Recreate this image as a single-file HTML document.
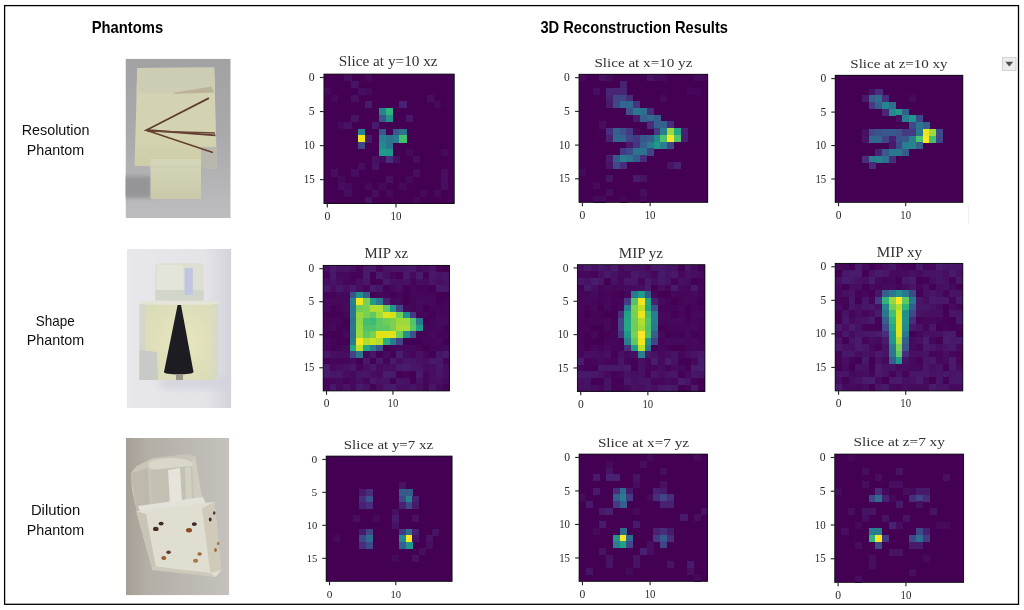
<!DOCTYPE html>
<html><head><meta charset="utf-8">
<style>
html,body{margin:0;padding:0;background:#fff;}
body{width:1024px;height:610px;overflow:hidden;position:relative;}
svg{position:absolute;left:0;top:0;display:block;filter:blur(0.3px);}
.tk{font-family:"Liberation Serif",serif;fill:#2a2a2a;}
.tt{font-family:"Liberation Serif",serif;fill:#333;}
.cal{font-family:"Liberation Sans",sans-serif;fill:#111;}
.calb{font-family:"Liberation Sans",sans-serif;font-weight:bold;fill:#000;}
</style></head><body>
<svg width="1024" height="610" viewBox="0 0 1024 610">
<rect x="0" y="0" width="1024" height="610" fill="#fff"/>
<rect x="4.6" y="5.6" width="1013.9" height="598.7" fill="none" stroke="#000" stroke-width="1.3"/>
<text x="91.7" y="32.5" class="calb" textLength="71.5" lengthAdjust="spacingAndGlyphs" style="font-size:16.5px">Phantoms</text>
<text x="540.4" y="32.5" class="calb" textLength="187.6" lengthAdjust="spacingAndGlyphs" style="font-size:16.5px">3D Reconstruction Results</text>
<text x="21.7" y="135.2" class="cal" textLength="67.8" lengthAdjust="spacingAndGlyphs" style="font-size:14.3px">Resolution</text>
<text x="26.8" y="154.9" class="cal" textLength="57.3" lengthAdjust="spacingAndGlyphs" style="font-size:14.3px">Phantom</text>
<text x="35.8" y="325.5" class="cal" textLength="38.9" lengthAdjust="spacingAndGlyphs" style="font-size:14.3px">Shape</text>
<text x="26.8" y="344.8" class="cal" textLength="57.3" lengthAdjust="spacingAndGlyphs" style="font-size:14.3px">Phantom</text>
<text x="30.9" y="515.2" class="cal" textLength="49.4" lengthAdjust="spacingAndGlyphs" style="font-size:14.3px">Dilution</text>
<text x="26.8" y="534.9" class="cal" textLength="57.3" lengthAdjust="spacingAndGlyphs" style="font-size:14.3px">Phantom</text>
<defs>
<clipPath id="cp1"><rect x="125.5" y="58.7" width="105.2" height="159.3"/></clipPath>
<clipPath id="cp2"><rect x="126.8" y="249" width="104.5" height="159"/></clipPath>
<clipPath id="cp3"><rect x="126" y="438" width="103.3" height="157.3"/></clipPath>
<filter id="bl" x="-10%" y="-10%" width="120%" height="120%"><feGaussianBlur stdDeviation="0.7"/></filter>
<filter id="bl2" x="-50%" y="-50%" width="200%" height="200%"><feGaussianBlur stdDeviation="4"/></filter>
<linearGradient id="g1bg" x1="0" y1="0" x2="0" y2="1"><stop offset="0" stop-color="#a2a2a5"/><stop offset="0.5" stop-color="#aaaaad"/><stop offset="1" stop-color="#bdbdbf"/></linearGradient>
<linearGradient id="g1cube" x1="0" y1="0" x2="0" y2="1"><stop offset="0" stop-color="#d3d3b6"/><stop offset="0.7" stop-color="#d3d3b0"/><stop offset="1" stop-color="#cdcca6"/></linearGradient><linearGradient id="g1blk" x1="0" y1="0" x2="0" y2="1"><stop offset="0" stop-color="#d6d6bb"/><stop offset="1" stop-color="#c9c9a9"/></linearGradient><filter id="bl3" x="-50%" y="-50%" width="200%" height="200%"><feGaussianBlur stdDeviation="2"/></filter>
<linearGradient id="g2bg" x1="0" y1="0" x2="1" y2="0"><stop offset="0" stop-color="#e8e8eb"/><stop offset="0.75" stop-color="#e3e3e8"/><stop offset="1" stop-color="#d3d3dc"/></linearGradient>
<radialGradient id="g2cube" cx="0.55" cy="0.5" r="0.6"><stop offset="0" stop-color="#e7e6bf"/><stop offset="1" stop-color="#dadbb8"/></radialGradient>
<linearGradient id="g3bg" x1="0" y1="0" x2="1" y2="0"><stop offset="0" stop-color="#a49e94"/><stop offset="0.2" stop-color="#b3aea6"/><stop offset="1" stop-color="#c5c1bc"/></linearGradient>
</defs>
<g clip-path="url(#cp1)">
<rect x="125.5" y="58.7" width="105.2" height="159.3" fill="url(#g1bg)"/>
<rect x="122" y="176" width="30" height="22" fill="#959597" filter="url(#bl3)"/>
<g filter="url(#bl)">
<polygon points="137.3,68.1 214.2,67.6 216.9,168.4 134.6,165.8" fill="url(#g1cube)"/>
<polygon points="137.3,68.1 214.2,67.6 215,92.8 136.5,92.8" fill="#cdcdb3"/>
<polygon points="201,147 216.5,147 216.9,168.4 201,168" fill="#b9b8ae"/>
<polygon points="150.5,159 201,159 201,199 150.5,199" fill="url(#g1blk)"/>
<line x1="150.5" y1="167" x2="201" y2="167" stroke="#cacab4" stroke-width="0.8"/>
<polyline points="208.9,98.1 146.6,130 215.5,135.3" fill="none" stroke="#5e3e30" stroke-width="1.8"/>
<line x1="147" y1="131" x2="215" y2="133" stroke="#6a4636" stroke-width="1.6"/>
<line x1="147" y1="130.5" x2="212.9" y2="152.5" stroke="#63412f" stroke-width="1.6"/>
<polygon points="172,93 211.6,86.5 214,92.5 176,94" fill="#9a806e" opacity="0.35"/>
</g>
</g>
<g clip-path="url(#cp2)">
<rect x="126.8" y="249" width="104.5" height="159" fill="url(#g2bg)"/>
<rect x="160" y="378" width="70" height="10" fill="#d2d2dc" filter="url(#bl2)"/>
<g filter="url(#bl)">
<rect x="155.3" y="263.2" width="48.3" height="37.5" rx="3.5" fill="#dcdfd2"/>
<rect x="157" y="265" width="26" height="28" fill="#e3e5d8"/>
<rect x="155.3" y="290" width="48.3" height="10.5" fill="#d2d5c9"/>
<rect x="184.6" y="268" width="8.2" height="27" fill="#c0c6e0"/>
<rect x="139.4" y="301.7" width="78.8" height="78.3" fill="url(#g2cube)"/>
<rect x="139.4" y="301.7" width="78.8" height="3" fill="#e4e5d8"/>
<rect x="139.4" y="304" width="6" height="76" fill="#d4d7c8"/>
<rect x="212.5" y="304" width="5.7" height="76" fill="#d8dac8"/>
<polygon points="139.4,350 157,352 158,380 139.4,380" fill="#c8cbc5"/>
<polygon points="177.6,305 181,305 193.5,372 164,372" fill="#1d1d22"/>
<ellipse cx="178.7" cy="372" rx="14.7" ry="2.6" fill="#1d1d22"/>
<rect x="176" y="374" width="7" height="6" fill="#9a9588"/>
</g>
</g>
<g clip-path="url(#cp3)">
<rect x="126" y="438" width="103.3" height="157.3" fill="url(#g3bg)"/>
<g filter="url(#bl)">
<polygon points="130.9,473 136.4,466.2 152.8,458 188.4,453.9 195.2,456.6 202,497.7 203,506 137,512 132,490" fill="#c9c6b9"/>
<ellipse cx="171" cy="465" rx="23" ry="7" fill="#d9d6ca"/>
<polygon points="150,470 192,466 193,503 152,506" fill="#c4c1b4"/>
<polygon points="130.9,473 148,468 150,507 137,512" fill="#bdb9ac"/>
<polygon points="168,470 180,468 182,502 170,504" fill="#e6e4da"/>
<polygon points="185,468 191,466 192,503 186,503" fill="#d2cfc3"/>
<polygon points="192,460 195.2,456.6 202,497.7 203,506 195,503" fill="#d0cdc0"/>
<polygon points="138,506 203,497 206,504 141,515" fill="#e4e2d8"/>
<polygon points="136.4,511.3 214.4,501.8 221.2,570.2 215.8,577 151.5,566" fill="#e0ddd1"/>
<polygon points="136.4,511.3 146,514 155.6,566 151.5,566" fill="#c9c5b6"/>
<polygon points="202,508.6 214.4,501.8 221.2,570.2 210.3,573" fill="#cfcab9"/>
<polygon points="151.5,566 210.3,573 215.8,577 152,570" fill="#cdc9bb"/>
<ellipse cx="155.8" cy="528.9" rx="2.8" ry="2.2" fill="#4a2c1f"/>
<ellipse cx="161.1" cy="523.6" rx="2.5" ry="1.9" fill="#3a2a28"/>
<ellipse cx="189" cy="530.2" rx="3" ry="2.2" fill="#8a4c26"/>
<ellipse cx="194.3" cy="524.1" rx="2.5" ry="1.9" fill="#3e2c28"/>
<ellipse cx="163.8" cy="558" rx="2.5" ry="2" fill="#9a5c2e"/>
<ellipse cx="168.6" cy="552.2" rx="2.3" ry="1.8" fill="#5a3a2e"/>
<ellipse cx="195.6" cy="560.7" rx="2.6" ry="2" fill="#a67a40"/>
<ellipse cx="199.6" cy="554" rx="2.2" ry="1.8" fill="#9a6a3a"/>
<ellipse cx="210.2" cy="519.6" rx="1.4" ry="2" fill="#3a2e30"/>
<ellipse cx="214.2" cy="513" rx="1.3" ry="1.8" fill="#4a3a36"/>
<ellipse cx="215.5" cy="550" rx="1.4" ry="2" fill="#a06a3a"/>
<ellipse cx="218.2" cy="543.5" rx="1.3" ry="1.8" fill="#a87a4a"/>
</g>
</g>

<g shape-rendering="crispEdges">
<rect x="323.90" y="74.10" width="130.40" height="129.40" fill="#440154"/>
<rect x="344.49" y="74.10" width="7.16" height="7.11" fill="#470d60"/>
<rect x="365.08" y="74.10" width="7.16" height="7.11" fill="#460a5d"/>
<rect x="351.35" y="80.91" width="7.16" height="7.11" fill="#471365"/>
<rect x="323.90" y="87.72" width="7.16" height="7.11" fill="#460a5d"/>
<rect x="358.22" y="87.72" width="7.16" height="7.11" fill="#470d60"/>
<rect x="365.08" y="87.72" width="7.16" height="7.11" fill="#460a5d"/>
<rect x="330.76" y="94.53" width="7.16" height="7.11" fill="#460a5d"/>
<rect x="351.35" y="94.53" width="7.16" height="7.11" fill="#471063"/>
<rect x="426.85" y="94.53" width="7.16" height="7.11" fill="#470d60"/>
<rect x="365.08" y="101.34" width="7.16" height="7.11" fill="#481a6c"/>
<rect x="399.39" y="101.34" width="7.16" height="7.11" fill="#482173"/>
<rect x="433.71" y="101.34" width="7.16" height="7.11" fill="#460a5d"/>
<rect x="378.81" y="108.15" width="7.16" height="7.11" fill="#25848e"/>
<rect x="385.67" y="108.15" width="7.16" height="7.11" fill="#2fb47c"/>
<rect x="351.35" y="114.96" width="7.16" height="7.11" fill="#471365"/>
<rect x="378.81" y="114.96" width="7.16" height="7.11" fill="#38588c"/>
<rect x="385.67" y="114.96" width="7.16" height="7.11" fill="#21918c"/>
<rect x="406.26" y="114.96" width="7.16" height="7.11" fill="#481769"/>
<rect x="337.63" y="121.77" width="7.16" height="7.11" fill="#460a5d"/>
<rect x="344.49" y="121.77" width="7.16" height="7.11" fill="#471365"/>
<rect x="371.94" y="121.77" width="7.16" height="7.11" fill="#481a6c"/>
<rect x="358.22" y="128.58" width="7.16" height="7.11" fill="#25848e"/>
<rect x="378.81" y="128.58" width="7.16" height="7.11" fill="#38588c"/>
<rect x="392.53" y="128.58" width="7.16" height="7.11" fill="#38588c"/>
<rect x="399.39" y="128.58" width="7.16" height="7.11" fill="#2c738e"/>
<rect x="358.22" y="135.39" width="7.16" height="7.11" fill="#ece51b"/>
<rect x="365.08" y="135.39" width="7.16" height="7.11" fill="#481a6c"/>
<rect x="378.81" y="135.39" width="7.16" height="7.11" fill="#27808e"/>
<rect x="385.67" y="135.39" width="7.16" height="7.11" fill="#2c738e"/>
<rect x="392.53" y="135.39" width="7.16" height="7.11" fill="#287d8e"/>
<rect x="399.39" y="135.39" width="7.16" height="7.11" fill="#44bf70"/>
<rect x="358.22" y="142.21" width="7.16" height="7.11" fill="#414487"/>
<rect x="378.81" y="142.21" width="7.16" height="7.11" fill="#228b8d"/>
<rect x="385.67" y="142.21" width="7.16" height="7.11" fill="#2c738e"/>
<rect x="378.81" y="149.02" width="7.16" height="7.11" fill="#1e9c89"/>
<rect x="385.67" y="149.02" width="7.16" height="7.11" fill="#1f978b"/>
<rect x="406.26" y="149.02" width="7.16" height="7.11" fill="#460a5d"/>
<rect x="440.57" y="149.02" width="7.16" height="7.11" fill="#460a5d"/>
<rect x="371.94" y="155.83" width="7.16" height="7.11" fill="#471063"/>
<rect x="378.81" y="155.83" width="7.16" height="7.11" fill="#460a5d"/>
<rect x="385.67" y="155.83" width="7.16" height="7.11" fill="#472d7b"/>
<rect x="392.53" y="155.83" width="7.16" height="7.11" fill="#471063"/>
<rect x="413.12" y="155.83" width="7.16" height="7.11" fill="#470d60"/>
<rect x="358.22" y="162.64" width="7.16" height="7.11" fill="#470d60"/>
<rect x="371.94" y="162.64" width="7.16" height="7.11" fill="#471365"/>
<rect x="330.76" y="169.45" width="7.16" height="7.11" fill="#470d60"/>
<rect x="351.35" y="169.45" width="7.16" height="7.11" fill="#470d60"/>
<rect x="413.12" y="169.45" width="7.16" height="7.11" fill="#470d60"/>
<rect x="440.57" y="169.45" width="7.16" height="7.11" fill="#470d60"/>
<rect x="337.63" y="176.26" width="7.16" height="7.11" fill="#460a5d"/>
<rect x="385.67" y="176.26" width="7.16" height="7.11" fill="#471063"/>
<rect x="406.26" y="176.26" width="7.16" height="7.11" fill="#460a5d"/>
<rect x="440.57" y="176.26" width="7.16" height="7.11" fill="#470d60"/>
<rect x="337.63" y="183.07" width="7.16" height="7.11" fill="#470d60"/>
<rect x="344.49" y="183.07" width="7.16" height="7.11" fill="#460a5d"/>
<rect x="365.08" y="183.07" width="7.16" height="7.11" fill="#460a5d"/>
<rect x="378.81" y="183.07" width="7.16" height="7.11" fill="#460a5d"/>
<rect x="399.39" y="183.07" width="7.16" height="7.11" fill="#460a5d"/>
<rect x="440.57" y="183.07" width="7.16" height="7.11" fill="#470d60"/>
<rect x="344.49" y="189.88" width="7.16" height="7.11" fill="#470d60"/>
<rect x="371.94" y="189.88" width="7.16" height="7.11" fill="#470d60"/>
<rect x="385.67" y="189.88" width="7.16" height="7.11" fill="#460a5d"/>
<rect x="419.98" y="189.88" width="7.16" height="7.11" fill="#460a5d"/>
<rect x="433.71" y="189.88" width="7.16" height="7.11" fill="#460a5d"/>
<rect x="365.08" y="196.69" width="7.16" height="7.11" fill="#471365"/>
<rect x="413.12" y="196.69" width="7.16" height="7.11" fill="#460a5d"/>
</g>
<rect x="323.90" y="74.10" width="130.40" height="129.40" fill="none" stroke="#111" stroke-width="0.9"/>
<line x1="319.90" y1="77.51" x2="323.90" y2="77.51" stroke="#222" stroke-width="1.1"/>
<text x="314.70" y="81.21" class="tk" text-anchor="end" style="font-size:11.81px">0</text>
<line x1="319.90" y1="111.56" x2="323.90" y2="111.56" stroke="#222" stroke-width="1.1"/>
<text x="314.70" y="115.26" class="tk" text-anchor="end" style="font-size:11.81px">5</text>
<line x1="319.90" y1="145.61" x2="323.90" y2="145.61" stroke="#222" stroke-width="1.1"/>
<text x="314.70" y="149.31" class="tk" text-anchor="end" textLength="11.01" lengthAdjust="spacingAndGlyphs" style="font-size:11.81px">10</text>
<line x1="319.90" y1="179.66" x2="323.90" y2="179.66" stroke="#222" stroke-width="1.1"/>
<text x="314.70" y="183.36" class="tk" text-anchor="end" textLength="11.01" lengthAdjust="spacingAndGlyphs" style="font-size:11.81px">15</text>
<line x1="327.33" y1="203.50" x2="327.33" y2="207.50" stroke="#222" stroke-width="1.1"/>
<text x="327.33" y="220.31" class="tk" text-anchor="middle" style="font-size:11.81px">0</text>
<line x1="395.96" y1="203.50" x2="395.96" y2="207.50" stroke="#222" stroke-width="1.1"/>
<text x="395.96" y="220.31" class="tk" text-anchor="middle" textLength="11.01" lengthAdjust="spacingAndGlyphs" style="font-size:11.81px">10</text>
<text x="338.80" y="66.40" class="tt" textLength="98.80" lengthAdjust="spacingAndGlyphs" style="font-size:13.61px">Slice at y=10 xz</text>
<g shape-rendering="crispEdges">
<rect x="579.00" y="74.30" width="128.70" height="128.10" fill="#440154"/>
<rect x="579.00" y="74.30" width="7.07" height="7.04" fill="#460a5d"/>
<rect x="599.32" y="74.30" width="7.07" height="7.04" fill="#471063"/>
<rect x="606.09" y="74.30" width="7.07" height="7.04" fill="#460a5d"/>
<rect x="646.74" y="74.30" width="7.07" height="7.04" fill="#471365"/>
<rect x="653.51" y="74.30" width="7.07" height="7.04" fill="#460a5d"/>
<rect x="660.28" y="74.30" width="7.07" height="7.04" fill="#460a5d"/>
<rect x="694.15" y="74.30" width="7.07" height="7.04" fill="#460a5d"/>
<rect x="700.93" y="74.30" width="7.07" height="7.04" fill="#460a5d"/>
<rect x="619.64" y="81.04" width="7.07" height="7.04" fill="#482173"/>
<rect x="592.55" y="87.78" width="7.07" height="7.04" fill="#470d60"/>
<rect x="606.09" y="87.78" width="7.07" height="7.04" fill="#482576"/>
<rect x="612.87" y="87.78" width="7.07" height="7.04" fill="#482576"/>
<rect x="619.64" y="87.78" width="7.07" height="7.04" fill="#482576"/>
<rect x="687.38" y="87.78" width="7.07" height="7.04" fill="#46075a"/>
<rect x="694.15" y="87.78" width="7.07" height="7.04" fill="#46075a"/>
<rect x="606.09" y="94.53" width="7.07" height="7.04" fill="#482173"/>
<rect x="612.87" y="94.53" width="7.07" height="7.04" fill="#414487"/>
<rect x="619.64" y="94.53" width="7.07" height="7.04" fill="#414487"/>
<rect x="626.42" y="94.53" width="7.07" height="7.04" fill="#472d7b"/>
<rect x="660.28" y="94.53" width="7.07" height="7.04" fill="#460a5d"/>
<rect x="606.09" y="101.27" width="7.07" height="7.04" fill="#481a6c"/>
<rect x="612.87" y="101.27" width="7.07" height="7.04" fill="#3e4989"/>
<rect x="619.64" y="101.27" width="7.07" height="7.04" fill="#31678e"/>
<rect x="626.42" y="101.27" width="7.07" height="7.04" fill="#31678e"/>
<rect x="633.19" y="101.27" width="7.07" height="7.04" fill="#453581"/>
<rect x="626.42" y="108.01" width="7.07" height="7.04" fill="#3b528b"/>
<rect x="633.19" y="108.01" width="7.07" height="7.04" fill="#2a788e"/>
<rect x="639.96" y="108.01" width="7.07" height="7.04" fill="#2d718e"/>
<rect x="646.74" y="108.01" width="7.07" height="7.04" fill="#472d7b"/>
<rect x="633.19" y="114.75" width="7.07" height="7.04" fill="#481a6c"/>
<rect x="639.96" y="114.75" width="7.07" height="7.04" fill="#355f8d"/>
<rect x="646.74" y="114.75" width="7.07" height="7.04" fill="#2f6c8e"/>
<rect x="653.51" y="114.75" width="7.07" height="7.04" fill="#355f8d"/>
<rect x="599.32" y="121.49" width="7.07" height="7.04" fill="#470d60"/>
<rect x="646.74" y="121.49" width="7.07" height="7.04" fill="#472d7b"/>
<rect x="653.51" y="121.49" width="7.07" height="7.04" fill="#355f8d"/>
<rect x="660.28" y="121.49" width="7.07" height="7.04" fill="#355f8d"/>
<rect x="667.06" y="121.49" width="7.07" height="7.04" fill="#472d7b"/>
<rect x="606.09" y="128.24" width="7.07" height="7.04" fill="#472d7b"/>
<rect x="612.87" y="128.24" width="7.07" height="7.04" fill="#355f8d"/>
<rect x="619.64" y="128.24" width="7.07" height="7.04" fill="#3b528b"/>
<rect x="626.42" y="128.24" width="7.07" height="7.04" fill="#443a83"/>
<rect x="633.19" y="128.24" width="7.07" height="7.04" fill="#460a5d"/>
<rect x="653.51" y="128.24" width="7.07" height="7.04" fill="#443a83"/>
<rect x="660.28" y="128.24" width="7.07" height="7.04" fill="#27808e"/>
<rect x="667.06" y="128.24" width="7.07" height="7.04" fill="#9bd93c"/>
<rect x="673.83" y="128.24" width="7.07" height="7.04" fill="#22a884"/>
<rect x="680.61" y="128.24" width="7.07" height="7.04" fill="#482173"/>
<rect x="606.09" y="134.98" width="7.07" height="7.04" fill="#482173"/>
<rect x="612.87" y="134.98" width="7.07" height="7.04" fill="#31678e"/>
<rect x="619.64" y="134.98" width="7.07" height="7.04" fill="#31678e"/>
<rect x="626.42" y="134.98" width="7.07" height="7.04" fill="#414487"/>
<rect x="633.19" y="134.98" width="7.07" height="7.04" fill="#443a83"/>
<rect x="639.96" y="134.98" width="7.07" height="7.04" fill="#38588c"/>
<rect x="646.74" y="134.98" width="7.07" height="7.04" fill="#355f8d"/>
<rect x="653.51" y="134.98" width="7.07" height="7.04" fill="#228b8d"/>
<rect x="660.28" y="134.98" width="7.07" height="7.04" fill="#4ec36b"/>
<rect x="667.06" y="134.98" width="7.07" height="7.04" fill="#fde725"/>
<rect x="673.83" y="134.98" width="7.07" height="7.04" fill="#52c569"/>
<rect x="680.61" y="134.98" width="7.07" height="7.04" fill="#482173"/>
<rect x="626.42" y="141.72" width="7.07" height="7.04" fill="#481a6c"/>
<rect x="633.19" y="141.72" width="7.07" height="7.04" fill="#453581"/>
<rect x="639.96" y="141.72" width="7.07" height="7.04" fill="#355f8d"/>
<rect x="646.74" y="141.72" width="7.07" height="7.04" fill="#287d8e"/>
<rect x="653.51" y="141.72" width="7.07" height="7.04" fill="#1f9a8a"/>
<rect x="660.28" y="141.72" width="7.07" height="7.04" fill="#287d8e"/>
<rect x="667.06" y="141.72" width="7.07" height="7.04" fill="#3e4989"/>
<rect x="619.64" y="148.46" width="7.07" height="7.04" fill="#443a83"/>
<rect x="626.42" y="148.46" width="7.07" height="7.04" fill="#3e4989"/>
<rect x="633.19" y="148.46" width="7.07" height="7.04" fill="#2c738e"/>
<rect x="639.96" y="148.46" width="7.07" height="7.04" fill="#2c738e"/>
<rect x="646.74" y="148.46" width="7.07" height="7.04" fill="#414487"/>
<rect x="606.09" y="155.21" width="7.07" height="7.04" fill="#481a6c"/>
<rect x="612.87" y="155.21" width="7.07" height="7.04" fill="#375a8c"/>
<rect x="619.64" y="155.21" width="7.07" height="7.04" fill="#287d8e"/>
<rect x="626.42" y="155.21" width="7.07" height="7.04" fill="#2c738e"/>
<rect x="633.19" y="155.21" width="7.07" height="7.04" fill="#375a8c"/>
<rect x="639.96" y="155.21" width="7.07" height="7.04" fill="#472d7b"/>
<rect x="606.09" y="161.95" width="7.07" height="7.04" fill="#471365"/>
<rect x="612.87" y="161.95" width="7.07" height="7.04" fill="#3e4989"/>
<rect x="619.64" y="161.95" width="7.07" height="7.04" fill="#472d7b"/>
<rect x="667.06" y="161.95" width="7.07" height="7.04" fill="#471365"/>
<rect x="673.83" y="161.95" width="7.07" height="7.04" fill="#482173"/>
<rect x="579.00" y="168.69" width="7.07" height="7.04" fill="#460a5d"/>
<rect x="606.09" y="175.43" width="7.07" height="7.04" fill="#471365"/>
<rect x="633.19" y="175.43" width="7.07" height="7.04" fill="#481a6c"/>
<rect x="639.96" y="175.43" width="7.07" height="7.04" fill="#471365"/>
<rect x="592.55" y="182.17" width="7.07" height="7.04" fill="#460a5d"/>
<rect x="606.09" y="188.92" width="7.07" height="7.04" fill="#470d60"/>
<rect x="639.96" y="188.92" width="7.07" height="7.04" fill="#470d60"/>
<rect x="592.55" y="195.66" width="7.07" height="7.04" fill="#460a5d"/>
<rect x="599.32" y="195.66" width="7.07" height="7.04" fill="#460a5d"/>
<rect x="619.64" y="195.66" width="7.07" height="7.04" fill="#46075a"/>
<rect x="639.96" y="195.66" width="7.07" height="7.04" fill="#46075a"/>
</g>
<rect x="579.00" y="74.30" width="128.70" height="128.10" fill="none" stroke="#111" stroke-width="0.9"/>
<line x1="575.05" y1="77.67" x2="579.00" y2="77.67" stroke="#222" stroke-width="1.1"/>
<text x="569.92" y="81.32" class="tk" text-anchor="end" style="font-size:11.65px">0</text>
<line x1="575.05" y1="111.38" x2="579.00" y2="111.38" stroke="#222" stroke-width="1.1"/>
<text x="569.92" y="115.04" class="tk" text-anchor="end" style="font-size:11.65px">5</text>
<line x1="575.05" y1="145.09" x2="579.00" y2="145.09" stroke="#222" stroke-width="1.1"/>
<text x="569.92" y="148.75" class="tk" text-anchor="end" textLength="10.86" lengthAdjust="spacingAndGlyphs" style="font-size:11.65px">10</text>
<line x1="575.05" y1="178.80" x2="579.00" y2="178.80" stroke="#222" stroke-width="1.1"/>
<text x="569.92" y="182.46" class="tk" text-anchor="end" textLength="10.86" lengthAdjust="spacingAndGlyphs" style="font-size:11.65px">15</text>
<line x1="582.39" y1="202.40" x2="582.39" y2="206.35" stroke="#222" stroke-width="1.1"/>
<text x="582.39" y="218.99" class="tk" text-anchor="middle" style="font-size:11.65px">0</text>
<line x1="650.12" y1="202.40" x2="650.12" y2="206.35" stroke="#222" stroke-width="1.1"/>
<text x="650.12" y="218.99" class="tk" text-anchor="middle" textLength="10.86" lengthAdjust="spacingAndGlyphs" style="font-size:11.65px">10</text>
<text x="594.40" y="67.40" class="tt" textLength="98.00" lengthAdjust="spacingAndGlyphs" style="font-size:13.43px">Slice at x=10 yz</text>
<g shape-rendering="crispEdges">
<rect x="835.20" y="75.30" width="127.60" height="127.10" fill="#440154"/>
<rect x="868.78" y="88.68" width="7.02" height="6.99" fill="#471365"/>
<rect x="875.49" y="88.68" width="7.02" height="6.99" fill="#472d7b"/>
<rect x="862.06" y="95.37" width="7.02" height="6.99" fill="#481a6c"/>
<rect x="868.78" y="95.37" width="7.02" height="6.99" fill="#355f8d"/>
<rect x="875.49" y="95.37" width="7.02" height="6.99" fill="#2f6c8e"/>
<rect x="882.21" y="95.37" width="7.02" height="6.99" fill="#472d7b"/>
<rect x="909.07" y="95.37" width="7.02" height="6.99" fill="#460a5d"/>
<rect x="868.78" y="102.06" width="7.02" height="6.99" fill="#443a83"/>
<rect x="875.49" y="102.06" width="7.02" height="6.99" fill="#355f8d"/>
<rect x="882.21" y="102.06" width="7.02" height="6.99" fill="#25848e"/>
<rect x="888.93" y="102.06" width="7.02" height="6.99" fill="#2f6c8e"/>
<rect x="882.21" y="108.75" width="7.02" height="6.99" fill="#482576"/>
<rect x="888.93" y="108.75" width="7.02" height="6.99" fill="#228b8d"/>
<rect x="895.64" y="108.75" width="7.02" height="6.99" fill="#1e9c89"/>
<rect x="902.36" y="108.75" width="7.02" height="6.99" fill="#355f8d"/>
<rect x="895.64" y="115.44" width="7.02" height="6.99" fill="#471063"/>
<rect x="902.36" y="115.44" width="7.02" height="6.99" fill="#27808e"/>
<rect x="909.07" y="115.44" width="7.02" height="6.99" fill="#1f958b"/>
<rect x="915.79" y="115.44" width="7.02" height="6.99" fill="#3e4989"/>
<rect x="909.07" y="122.13" width="7.02" height="6.99" fill="#3e4989"/>
<rect x="915.79" y="122.13" width="7.02" height="6.99" fill="#2c738e"/>
<rect x="922.51" y="122.13" width="7.02" height="6.99" fill="#355f8d"/>
<rect x="862.06" y="128.82" width="7.02" height="6.99" fill="#471063"/>
<rect x="868.78" y="128.82" width="7.02" height="6.99" fill="#3e4989"/>
<rect x="875.49" y="128.82" width="7.02" height="6.99" fill="#3b528b"/>
<rect x="882.21" y="128.82" width="7.02" height="6.99" fill="#38588c"/>
<rect x="888.93" y="128.82" width="7.02" height="6.99" fill="#375a8c"/>
<rect x="895.64" y="128.82" width="7.02" height="6.99" fill="#3b528b"/>
<rect x="902.36" y="128.82" width="7.02" height="6.99" fill="#443a83"/>
<rect x="909.07" y="128.82" width="7.02" height="6.99" fill="#443a83"/>
<rect x="915.79" y="128.82" width="7.02" height="6.99" fill="#2a788e"/>
<rect x="922.51" y="128.82" width="7.02" height="6.99" fill="#ece51b"/>
<rect x="929.22" y="128.82" width="7.02" height="6.99" fill="#9bd93c"/>
<rect x="935.94" y="128.82" width="7.02" height="6.99" fill="#3e4989"/>
<rect x="862.06" y="135.51" width="7.02" height="6.99" fill="#471365"/>
<rect x="868.78" y="135.51" width="7.02" height="6.99" fill="#31678e"/>
<rect x="875.49" y="135.51" width="7.02" height="6.99" fill="#31678e"/>
<rect x="882.21" y="135.51" width="7.02" height="6.99" fill="#414487"/>
<rect x="888.93" y="135.51" width="7.02" height="6.99" fill="#482173"/>
<rect x="895.64" y="135.51" width="7.02" height="6.99" fill="#3b528b"/>
<rect x="902.36" y="135.51" width="7.02" height="6.99" fill="#375a8c"/>
<rect x="909.07" y="135.51" width="7.02" height="6.99" fill="#27808e"/>
<rect x="915.79" y="135.51" width="7.02" height="6.99" fill="#4ec36b"/>
<rect x="922.51" y="135.51" width="7.02" height="6.99" fill="#fde725"/>
<rect x="929.22" y="135.51" width="7.02" height="6.99" fill="#44bf70"/>
<rect x="935.94" y="135.51" width="7.02" height="6.99" fill="#414487"/>
<rect x="888.93" y="142.19" width="7.02" height="6.99" fill="#481a6c"/>
<rect x="895.64" y="142.19" width="7.02" height="6.99" fill="#3e4989"/>
<rect x="902.36" y="142.19" width="7.02" height="6.99" fill="#27808e"/>
<rect x="909.07" y="142.19" width="7.02" height="6.99" fill="#25848e"/>
<rect x="915.79" y="142.19" width="7.02" height="6.99" fill="#355f8d"/>
<rect x="875.49" y="148.88" width="7.02" height="6.99" fill="#482173"/>
<rect x="882.21" y="148.88" width="7.02" height="6.99" fill="#375a8c"/>
<rect x="888.93" y="148.88" width="7.02" height="6.99" fill="#2a788e"/>
<rect x="895.64" y="148.88" width="7.02" height="6.99" fill="#2a788e"/>
<rect x="902.36" y="148.88" width="7.02" height="6.99" fill="#375a8c"/>
<rect x="862.06" y="155.57" width="7.02" height="6.99" fill="#472d7b"/>
<rect x="868.78" y="155.57" width="7.02" height="6.99" fill="#27808e"/>
<rect x="875.49" y="155.57" width="7.02" height="6.99" fill="#27808e"/>
<rect x="882.21" y="155.57" width="7.02" height="6.99" fill="#2d718e"/>
<rect x="888.93" y="155.57" width="7.02" height="6.99" fill="#472d7b"/>
<rect x="868.78" y="162.26" width="7.02" height="6.99" fill="#472d7b"/>
</g>
<rect x="835.20" y="75.30" width="127.60" height="127.10" fill="none" stroke="#111" stroke-width="0.9"/>
<line x1="831.28" y1="78.64" x2="835.20" y2="78.64" stroke="#222" stroke-width="1.1"/>
<text x="826.19" y="82.27" class="tk" text-anchor="end" style="font-size:11.55px">0</text>
<line x1="831.28" y1="112.09" x2="835.20" y2="112.09" stroke="#222" stroke-width="1.1"/>
<text x="826.19" y="115.71" class="tk" text-anchor="end" style="font-size:11.55px">5</text>
<line x1="831.28" y1="145.54" x2="835.20" y2="145.54" stroke="#222" stroke-width="1.1"/>
<text x="826.19" y="149.16" class="tk" text-anchor="end" textLength="10.77" lengthAdjust="spacingAndGlyphs" style="font-size:11.55px">10</text>
<line x1="831.28" y1="178.99" x2="835.20" y2="178.99" stroke="#222" stroke-width="1.1"/>
<text x="826.19" y="182.61" class="tk" text-anchor="end" textLength="10.77" lengthAdjust="spacingAndGlyphs" style="font-size:11.55px">15</text>
<line x1="838.56" y1="202.40" x2="838.56" y2="206.32" stroke="#222" stroke-width="1.1"/>
<text x="838.56" y="218.85" class="tk" text-anchor="middle" style="font-size:11.55px">0</text>
<line x1="905.72" y1="202.40" x2="905.72" y2="206.32" stroke="#222" stroke-width="1.1"/>
<text x="905.72" y="218.85" class="tk" text-anchor="middle" textLength="10.77" lengthAdjust="spacingAndGlyphs" style="font-size:11.55px">10</text>
<text x="850.30" y="68.20" class="tt" textLength="97.30" lengthAdjust="spacingAndGlyphs" style="font-size:13.31px">Slice at z=10 xy</text>
<g shape-rendering="crispEdges">
<rect x="323.20" y="265.40" width="126.20" height="125.50" fill="#440154"/>
<rect x="323.20" y="265.40" width="6.94" height="6.91" fill="#470d60"/>
<rect x="329.84" y="265.40" width="6.94" height="6.91" fill="#481b6d"/>
<rect x="336.48" y="265.40" width="6.94" height="6.91" fill="#471164"/>
<rect x="343.13" y="265.40" width="6.94" height="6.91" fill="#481467"/>
<rect x="349.77" y="265.40" width="6.94" height="6.91" fill="#470e61"/>
<rect x="356.41" y="265.40" width="6.94" height="6.91" fill="#450559"/>
<rect x="363.05" y="265.40" width="6.94" height="6.91" fill="#481769"/>
<rect x="369.69" y="265.40" width="6.94" height="6.91" fill="#48186a"/>
<rect x="376.34" y="265.40" width="6.94" height="6.91" fill="#46075a"/>
<rect x="382.98" y="265.40" width="6.94" height="6.91" fill="#471365"/>
<rect x="389.62" y="265.40" width="6.94" height="6.91" fill="#481467"/>
<rect x="396.26" y="265.40" width="6.94" height="6.91" fill="#481467"/>
<rect x="402.91" y="265.40" width="6.94" height="6.91" fill="#481769"/>
<rect x="409.55" y="265.40" width="6.94" height="6.91" fill="#48186a"/>
<rect x="416.19" y="265.40" width="6.94" height="6.91" fill="#460b5e"/>
<rect x="422.83" y="265.40" width="6.94" height="6.91" fill="#470e61"/>
<rect x="429.47" y="265.40" width="6.94" height="6.91" fill="#481467"/>
<rect x="436.12" y="265.40" width="6.94" height="6.91" fill="#450457"/>
<rect x="442.76" y="265.40" width="6.94" height="6.91" fill="#440154"/>
<rect x="323.20" y="272.01" width="6.94" height="6.91" fill="#450457"/>
<rect x="329.84" y="272.01" width="6.94" height="6.91" fill="#48186a"/>
<rect x="336.48" y="272.01" width="6.94" height="6.91" fill="#460a5d"/>
<rect x="343.13" y="272.01" width="6.94" height="6.91" fill="#46085c"/>
<rect x="349.77" y="272.01" width="6.94" height="6.91" fill="#450457"/>
<rect x="356.41" y="272.01" width="6.94" height="6.91" fill="#450457"/>
<rect x="363.05" y="272.01" width="6.94" height="6.91" fill="#481b6d"/>
<rect x="369.69" y="272.01" width="6.94" height="6.91" fill="#440154"/>
<rect x="376.34" y="272.01" width="6.94" height="6.91" fill="#481b6d"/>
<rect x="382.98" y="272.01" width="6.94" height="6.91" fill="#471063"/>
<rect x="389.62" y="272.01" width="6.94" height="6.91" fill="#46075a"/>
<rect x="396.26" y="272.01" width="6.94" height="6.91" fill="#440154"/>
<rect x="402.91" y="272.01" width="6.94" height="6.91" fill="#48186a"/>
<rect x="409.55" y="272.01" width="6.94" height="6.91" fill="#460b5e"/>
<rect x="416.19" y="272.01" width="6.94" height="6.91" fill="#481b6d"/>
<rect x="422.83" y="272.01" width="6.94" height="6.91" fill="#440256"/>
<rect x="429.47" y="272.01" width="6.94" height="6.91" fill="#481769"/>
<rect x="436.12" y="272.01" width="6.94" height="6.91" fill="#471365"/>
<rect x="442.76" y="272.01" width="6.94" height="6.91" fill="#481769"/>
<rect x="323.20" y="278.61" width="6.94" height="6.91" fill="#470e61"/>
<rect x="329.84" y="278.61" width="6.94" height="6.91" fill="#481467"/>
<rect x="336.48" y="278.61" width="6.94" height="6.91" fill="#470d60"/>
<rect x="343.13" y="278.61" width="6.94" height="6.91" fill="#46075a"/>
<rect x="349.77" y="278.61" width="6.94" height="6.91" fill="#450457"/>
<rect x="356.41" y="278.61" width="6.94" height="6.91" fill="#470e61"/>
<rect x="363.05" y="278.61" width="6.94" height="6.91" fill="#481668"/>
<rect x="369.69" y="278.61" width="6.94" height="6.91" fill="#440154"/>
<rect x="376.34" y="278.61" width="6.94" height="6.91" fill="#450457"/>
<rect x="382.98" y="278.61" width="6.94" height="6.91" fill="#481a6c"/>
<rect x="389.62" y="278.61" width="6.94" height="6.91" fill="#471063"/>
<rect x="396.26" y="278.61" width="6.94" height="6.91" fill="#471063"/>
<rect x="402.91" y="278.61" width="6.94" height="6.91" fill="#471164"/>
<rect x="409.55" y="278.61" width="6.94" height="6.91" fill="#450457"/>
<rect x="416.19" y="278.61" width="6.94" height="6.91" fill="#470d60"/>
<rect x="422.83" y="278.61" width="6.94" height="6.91" fill="#460b5e"/>
<rect x="429.47" y="278.61" width="6.94" height="6.91" fill="#481467"/>
<rect x="436.12" y="278.61" width="6.94" height="6.91" fill="#470e61"/>
<rect x="442.76" y="278.61" width="6.94" height="6.91" fill="#471365"/>
<rect x="323.20" y="285.22" width="6.94" height="6.91" fill="#481a6c"/>
<rect x="329.84" y="285.22" width="6.94" height="6.91" fill="#470e61"/>
<rect x="336.48" y="285.22" width="6.94" height="6.91" fill="#481769"/>
<rect x="343.13" y="285.22" width="6.94" height="6.91" fill="#471063"/>
<rect x="349.77" y="285.22" width="6.94" height="6.91" fill="#481b6d"/>
<rect x="356.41" y="285.22" width="6.94" height="6.91" fill="#470e61"/>
<rect x="363.05" y="285.22" width="6.94" height="6.91" fill="#46075a"/>
<rect x="369.69" y="285.22" width="6.94" height="6.91" fill="#481b6d"/>
<rect x="376.34" y="285.22" width="6.94" height="6.91" fill="#481668"/>
<rect x="382.98" y="285.22" width="6.94" height="6.91" fill="#450457"/>
<rect x="389.62" y="285.22" width="6.94" height="6.91" fill="#460a5d"/>
<rect x="396.26" y="285.22" width="6.94" height="6.91" fill="#470e61"/>
<rect x="402.91" y="285.22" width="6.94" height="6.91" fill="#440256"/>
<rect x="409.55" y="285.22" width="6.94" height="6.91" fill="#46075a"/>
<rect x="416.19" y="285.22" width="6.94" height="6.91" fill="#450457"/>
<rect x="422.83" y="285.22" width="6.94" height="6.91" fill="#450457"/>
<rect x="429.47" y="285.22" width="6.94" height="6.91" fill="#440256"/>
<rect x="436.12" y="285.22" width="6.94" height="6.91" fill="#48186a"/>
<rect x="442.76" y="285.22" width="6.94" height="6.91" fill="#48186a"/>
<rect x="323.20" y="291.82" width="6.94" height="6.91" fill="#450559"/>
<rect x="329.84" y="291.82" width="6.94" height="6.91" fill="#450457"/>
<rect x="336.48" y="291.82" width="6.94" height="6.91" fill="#46085c"/>
<rect x="343.13" y="291.82" width="6.94" height="6.91" fill="#46085c"/>
<rect x="349.77" y="291.82" width="6.94" height="6.91" fill="#3b528b"/>
<rect x="356.41" y="291.82" width="6.94" height="6.91" fill="#21918c"/>
<rect x="363.05" y="291.82" width="6.94" height="6.91" fill="#355f8d"/>
<rect x="369.69" y="291.82" width="6.94" height="6.91" fill="#440154"/>
<rect x="376.34" y="291.82" width="6.94" height="6.91" fill="#46075a"/>
<rect x="382.98" y="291.82" width="6.94" height="6.91" fill="#450559"/>
<rect x="389.62" y="291.82" width="6.94" height="6.91" fill="#440256"/>
<rect x="396.26" y="291.82" width="6.94" height="6.91" fill="#450559"/>
<rect x="402.91" y="291.82" width="6.94" height="6.91" fill="#440256"/>
<rect x="409.55" y="291.82" width="6.94" height="6.91" fill="#46075a"/>
<rect x="416.19" y="291.82" width="6.94" height="6.91" fill="#46075a"/>
<rect x="422.83" y="291.82" width="6.94" height="6.91" fill="#46075a"/>
<rect x="429.47" y="291.82" width="6.94" height="6.91" fill="#46075a"/>
<rect x="436.12" y="291.82" width="6.94" height="6.91" fill="#440154"/>
<rect x="442.76" y="291.82" width="6.94" height="6.91" fill="#440154"/>
<rect x="323.20" y="298.43" width="6.94" height="6.91" fill="#46085c"/>
<rect x="329.84" y="298.43" width="6.94" height="6.91" fill="#460a5d"/>
<rect x="336.48" y="298.43" width="6.94" height="6.91" fill="#46075a"/>
<rect x="343.13" y="298.43" width="6.94" height="6.91" fill="#460a5d"/>
<rect x="349.77" y="298.43" width="6.94" height="6.91" fill="#27808e"/>
<rect x="356.41" y="298.43" width="6.94" height="6.91" fill="#f1e51d"/>
<rect x="363.05" y="298.43" width="6.94" height="6.91" fill="#7ad151"/>
<rect x="369.69" y="298.43" width="6.94" height="6.91" fill="#1e9c89"/>
<rect x="376.34" y="298.43" width="6.94" height="6.91" fill="#2a788e"/>
<rect x="382.98" y="298.43" width="6.94" height="6.91" fill="#482173"/>
<rect x="389.62" y="298.43" width="6.94" height="6.91" fill="#46085c"/>
<rect x="396.26" y="298.43" width="6.94" height="6.91" fill="#460a5d"/>
<rect x="402.91" y="298.43" width="6.94" height="6.91" fill="#440154"/>
<rect x="409.55" y="298.43" width="6.94" height="6.91" fill="#450559"/>
<rect x="416.19" y="298.43" width="6.94" height="6.91" fill="#460a5d"/>
<rect x="422.83" y="298.43" width="6.94" height="6.91" fill="#46075a"/>
<rect x="429.47" y="298.43" width="6.94" height="6.91" fill="#46085c"/>
<rect x="436.12" y="298.43" width="6.94" height="6.91" fill="#440256"/>
<rect x="442.76" y="298.43" width="6.94" height="6.91" fill="#450457"/>
<rect x="323.20" y="305.03" width="6.94" height="6.91" fill="#46085c"/>
<rect x="329.84" y="305.03" width="6.94" height="6.91" fill="#440256"/>
<rect x="336.48" y="305.03" width="6.94" height="6.91" fill="#450457"/>
<rect x="343.13" y="305.03" width="6.94" height="6.91" fill="#460a5d"/>
<rect x="349.77" y="305.03" width="6.94" height="6.91" fill="#2a788e"/>
<rect x="356.41" y="305.03" width="6.94" height="6.91" fill="#6ece58"/>
<rect x="363.05" y="305.03" width="6.94" height="6.91" fill="#7ad151"/>
<rect x="369.69" y="305.03" width="6.94" height="6.91" fill="#b0dd2f"/>
<rect x="376.34" y="305.03" width="6.94" height="6.91" fill="#b0dd2f"/>
<rect x="382.98" y="305.03" width="6.94" height="6.91" fill="#5ec962"/>
<rect x="389.62" y="305.03" width="6.94" height="6.91" fill="#1f978b"/>
<rect x="396.26" y="305.03" width="6.94" height="6.91" fill="#414487"/>
<rect x="402.91" y="305.03" width="6.94" height="6.91" fill="#46085c"/>
<rect x="409.55" y="305.03" width="6.94" height="6.91" fill="#450559"/>
<rect x="416.19" y="305.03" width="6.94" height="6.91" fill="#46085c"/>
<rect x="422.83" y="305.03" width="6.94" height="6.91" fill="#440154"/>
<rect x="429.47" y="305.03" width="6.94" height="6.91" fill="#450559"/>
<rect x="436.12" y="305.03" width="6.94" height="6.91" fill="#450559"/>
<rect x="442.76" y="305.03" width="6.94" height="6.91" fill="#46075a"/>
<rect x="323.20" y="311.64" width="6.94" height="6.91" fill="#440154"/>
<rect x="329.84" y="311.64" width="6.94" height="6.91" fill="#440256"/>
<rect x="336.48" y="311.64" width="6.94" height="6.91" fill="#440256"/>
<rect x="343.13" y="311.64" width="6.94" height="6.91" fill="#46075a"/>
<rect x="349.77" y="311.64" width="6.94" height="6.91" fill="#2a788e"/>
<rect x="356.41" y="311.64" width="6.94" height="6.91" fill="#95d840"/>
<rect x="363.05" y="311.64" width="6.94" height="6.91" fill="#7ad151"/>
<rect x="369.69" y="311.64" width="6.94" height="6.91" fill="#5ec962"/>
<rect x="376.34" y="311.64" width="6.94" height="6.91" fill="#a2da37"/>
<rect x="382.98" y="311.64" width="6.94" height="6.91" fill="#dfe318"/>
<rect x="389.62" y="311.64" width="6.94" height="6.91" fill="#d2e21b"/>
<rect x="396.26" y="311.64" width="6.94" height="6.91" fill="#6ece58"/>
<rect x="402.91" y="311.64" width="6.94" height="6.91" fill="#21918c"/>
<rect x="409.55" y="311.64" width="6.94" height="6.91" fill="#443a83"/>
<rect x="416.19" y="311.64" width="6.94" height="6.91" fill="#450457"/>
<rect x="422.83" y="311.64" width="6.94" height="6.91" fill="#46075a"/>
<rect x="429.47" y="311.64" width="6.94" height="6.91" fill="#440256"/>
<rect x="436.12" y="311.64" width="6.94" height="6.91" fill="#46085c"/>
<rect x="442.76" y="311.64" width="6.94" height="6.91" fill="#46075a"/>
<rect x="323.20" y="318.24" width="6.94" height="6.91" fill="#450559"/>
<rect x="329.84" y="318.24" width="6.94" height="6.91" fill="#46075a"/>
<rect x="336.48" y="318.24" width="6.94" height="6.91" fill="#450559"/>
<rect x="343.13" y="318.24" width="6.94" height="6.91" fill="#440154"/>
<rect x="349.77" y="318.24" width="6.94" height="6.91" fill="#2c738e"/>
<rect x="356.41" y="318.24" width="6.94" height="6.91" fill="#8ed645"/>
<rect x="363.05" y="318.24" width="6.94" height="6.91" fill="#44bf70"/>
<rect x="369.69" y="318.24" width="6.94" height="6.91" fill="#3bbb75"/>
<rect x="376.34" y="318.24" width="6.94" height="6.91" fill="#5ec962"/>
<rect x="382.98" y="318.24" width="6.94" height="6.91" fill="#6ece58"/>
<rect x="389.62" y="318.24" width="6.94" height="6.91" fill="#7ad151"/>
<rect x="396.26" y="318.24" width="6.94" height="6.91" fill="#9bd93c"/>
<rect x="402.91" y="318.24" width="6.94" height="6.91" fill="#9bd93c"/>
<rect x="409.55" y="318.24" width="6.94" height="6.91" fill="#52c569"/>
<rect x="416.19" y="318.24" width="6.94" height="6.91" fill="#2a788e"/>
<rect x="422.83" y="318.24" width="6.94" height="6.91" fill="#440154"/>
<rect x="429.47" y="318.24" width="6.94" height="6.91" fill="#450559"/>
<rect x="436.12" y="318.24" width="6.94" height="6.91" fill="#460a5d"/>
<rect x="442.76" y="318.24" width="6.94" height="6.91" fill="#460a5d"/>
<rect x="323.20" y="324.85" width="6.94" height="6.91" fill="#46075a"/>
<rect x="329.84" y="324.85" width="6.94" height="6.91" fill="#460a5d"/>
<rect x="336.48" y="324.85" width="6.94" height="6.91" fill="#440256"/>
<rect x="343.13" y="324.85" width="6.94" height="6.91" fill="#440256"/>
<rect x="349.77" y="324.85" width="6.94" height="6.91" fill="#2a788e"/>
<rect x="356.41" y="324.85" width="6.94" height="6.91" fill="#95d840"/>
<rect x="363.05" y="324.85" width="6.94" height="6.91" fill="#4ec36b"/>
<rect x="369.69" y="324.85" width="6.94" height="6.91" fill="#4ec36b"/>
<rect x="376.34" y="324.85" width="6.94" height="6.91" fill="#5ec962"/>
<rect x="382.98" y="324.85" width="6.94" height="6.91" fill="#5ec962"/>
<rect x="389.62" y="324.85" width="6.94" height="6.91" fill="#7ad151"/>
<rect x="396.26" y="324.85" width="6.94" height="6.91" fill="#a8db34"/>
<rect x="402.91" y="324.85" width="6.94" height="6.91" fill="#a8db34"/>
<rect x="409.55" y="324.85" width="6.94" height="6.91" fill="#5ec962"/>
<rect x="416.19" y="324.85" width="6.94" height="6.91" fill="#1e9c89"/>
<rect x="422.83" y="324.85" width="6.94" height="6.91" fill="#450559"/>
<rect x="429.47" y="324.85" width="6.94" height="6.91" fill="#450559"/>
<rect x="436.12" y="324.85" width="6.94" height="6.91" fill="#46085c"/>
<rect x="442.76" y="324.85" width="6.94" height="6.91" fill="#440256"/>
<rect x="323.20" y="331.45" width="6.94" height="6.91" fill="#440256"/>
<rect x="329.84" y="331.45" width="6.94" height="6.91" fill="#440154"/>
<rect x="336.48" y="331.45" width="6.94" height="6.91" fill="#440256"/>
<rect x="343.13" y="331.45" width="6.94" height="6.91" fill="#46085c"/>
<rect x="349.77" y="331.45" width="6.94" height="6.91" fill="#2c738e"/>
<rect x="356.41" y="331.45" width="6.94" height="6.91" fill="#9bd93c"/>
<rect x="363.05" y="331.45" width="6.94" height="6.91" fill="#5ec962"/>
<rect x="369.69" y="331.45" width="6.94" height="6.91" fill="#7ad151"/>
<rect x="376.34" y="331.45" width="6.94" height="6.91" fill="#dfe318"/>
<rect x="382.98" y="331.45" width="6.94" height="6.91" fill="#dfe318"/>
<rect x="389.62" y="331.45" width="6.94" height="6.91" fill="#dfe318"/>
<rect x="396.26" y="331.45" width="6.94" height="6.91" fill="#6ece58"/>
<rect x="402.91" y="331.45" width="6.94" height="6.91" fill="#21918c"/>
<rect x="409.55" y="331.45" width="6.94" height="6.91" fill="#3b528b"/>
<rect x="416.19" y="331.45" width="6.94" height="6.91" fill="#450457"/>
<rect x="422.83" y="331.45" width="6.94" height="6.91" fill="#450559"/>
<rect x="429.47" y="331.45" width="6.94" height="6.91" fill="#460a5d"/>
<rect x="436.12" y="331.45" width="6.94" height="6.91" fill="#450457"/>
<rect x="442.76" y="331.45" width="6.94" height="6.91" fill="#450559"/>
<rect x="323.20" y="338.06" width="6.94" height="6.91" fill="#46085c"/>
<rect x="329.84" y="338.06" width="6.94" height="6.91" fill="#450559"/>
<rect x="336.48" y="338.06" width="6.94" height="6.91" fill="#440154"/>
<rect x="343.13" y="338.06" width="6.94" height="6.91" fill="#440154"/>
<rect x="349.77" y="338.06" width="6.94" height="6.91" fill="#287d8e"/>
<rect x="356.41" y="338.06" width="6.94" height="6.91" fill="#f1e51d"/>
<rect x="363.05" y="338.06" width="6.94" height="6.91" fill="#b0dd2f"/>
<rect x="369.69" y="338.06" width="6.94" height="6.91" fill="#cae11f"/>
<rect x="376.34" y="338.06" width="6.94" height="6.91" fill="#b0dd2f"/>
<rect x="382.98" y="338.06" width="6.94" height="6.91" fill="#26ad81"/>
<rect x="389.62" y="338.06" width="6.94" height="6.91" fill="#287d8e"/>
<rect x="396.26" y="338.06" width="6.94" height="6.91" fill="#414487"/>
<rect x="402.91" y="338.06" width="6.94" height="6.91" fill="#440256"/>
<rect x="409.55" y="338.06" width="6.94" height="6.91" fill="#440256"/>
<rect x="416.19" y="338.06" width="6.94" height="6.91" fill="#440256"/>
<rect x="422.83" y="338.06" width="6.94" height="6.91" fill="#450559"/>
<rect x="429.47" y="338.06" width="6.94" height="6.91" fill="#450559"/>
<rect x="436.12" y="338.06" width="6.94" height="6.91" fill="#46085c"/>
<rect x="442.76" y="338.06" width="6.94" height="6.91" fill="#440154"/>
<rect x="323.20" y="344.66" width="6.94" height="6.91" fill="#46085c"/>
<rect x="329.84" y="344.66" width="6.94" height="6.91" fill="#440256"/>
<rect x="336.48" y="344.66" width="6.94" height="6.91" fill="#450559"/>
<rect x="343.13" y="344.66" width="6.94" height="6.91" fill="#460a5d"/>
<rect x="349.77" y="344.66" width="6.94" height="6.91" fill="#22a884"/>
<rect x="356.41" y="344.66" width="6.94" height="6.91" fill="#bddf26"/>
<rect x="363.05" y="344.66" width="6.94" height="6.91" fill="#22a884"/>
<rect x="369.69" y="344.66" width="6.94" height="6.91" fill="#287d8e"/>
<rect x="376.34" y="344.66" width="6.94" height="6.91" fill="#3b528b"/>
<rect x="382.98" y="344.66" width="6.94" height="6.91" fill="#440154"/>
<rect x="389.62" y="344.66" width="6.94" height="6.91" fill="#46085c"/>
<rect x="396.26" y="344.66" width="6.94" height="6.91" fill="#460a5d"/>
<rect x="402.91" y="344.66" width="6.94" height="6.91" fill="#46085c"/>
<rect x="409.55" y="344.66" width="6.94" height="6.91" fill="#460a5d"/>
<rect x="416.19" y="344.66" width="6.94" height="6.91" fill="#450559"/>
<rect x="422.83" y="344.66" width="6.94" height="6.91" fill="#440154"/>
<rect x="429.47" y="344.66" width="6.94" height="6.91" fill="#450559"/>
<rect x="436.12" y="344.66" width="6.94" height="6.91" fill="#450559"/>
<rect x="442.76" y="344.66" width="6.94" height="6.91" fill="#460a5d"/>
<rect x="323.20" y="351.27" width="6.94" height="6.91" fill="#481769"/>
<rect x="329.84" y="351.27" width="6.94" height="6.91" fill="#471063"/>
<rect x="336.48" y="351.27" width="6.94" height="6.91" fill="#470d60"/>
<rect x="343.13" y="351.27" width="6.94" height="6.91" fill="#470d60"/>
<rect x="349.77" y="351.27" width="6.94" height="6.91" fill="#414487"/>
<rect x="356.41" y="351.27" width="6.94" height="6.91" fill="#2c738e"/>
<rect x="363.05" y="351.27" width="6.94" height="6.91" fill="#460a5d"/>
<rect x="369.69" y="351.27" width="6.94" height="6.91" fill="#481769"/>
<rect x="376.34" y="351.27" width="6.94" height="6.91" fill="#440256"/>
<rect x="382.98" y="351.27" width="6.94" height="6.91" fill="#460b5e"/>
<rect x="389.62" y="351.27" width="6.94" height="6.91" fill="#440256"/>
<rect x="396.26" y="351.27" width="6.94" height="6.91" fill="#481c6e"/>
<rect x="402.91" y="351.27" width="6.94" height="6.91" fill="#460b5e"/>
<rect x="409.55" y="351.27" width="6.94" height="6.91" fill="#450559"/>
<rect x="416.19" y="351.27" width="6.94" height="6.91" fill="#471164"/>
<rect x="422.83" y="351.27" width="6.94" height="6.91" fill="#46075a"/>
<rect x="429.47" y="351.27" width="6.94" height="6.91" fill="#440256"/>
<rect x="436.12" y="351.27" width="6.94" height="6.91" fill="#481668"/>
<rect x="442.76" y="351.27" width="6.94" height="6.91" fill="#481b6d"/>
<rect x="323.20" y="357.87" width="6.94" height="6.91" fill="#440154"/>
<rect x="329.84" y="357.87" width="6.94" height="6.91" fill="#46075a"/>
<rect x="336.48" y="357.87" width="6.94" height="6.91" fill="#450559"/>
<rect x="343.13" y="357.87" width="6.94" height="6.91" fill="#46075a"/>
<rect x="349.77" y="357.87" width="6.94" height="6.91" fill="#460b5e"/>
<rect x="356.41" y="357.87" width="6.94" height="6.91" fill="#440154"/>
<rect x="363.05" y="357.87" width="6.94" height="6.91" fill="#48186a"/>
<rect x="369.69" y="357.87" width="6.94" height="6.91" fill="#440256"/>
<rect x="376.34" y="357.87" width="6.94" height="6.91" fill="#48186a"/>
<rect x="382.98" y="357.87" width="6.94" height="6.91" fill="#450457"/>
<rect x="389.62" y="357.87" width="6.94" height="6.91" fill="#481a6c"/>
<rect x="396.26" y="357.87" width="6.94" height="6.91" fill="#470d60"/>
<rect x="402.91" y="357.87" width="6.94" height="6.91" fill="#481668"/>
<rect x="409.55" y="357.87" width="6.94" height="6.91" fill="#481467"/>
<rect x="416.19" y="357.87" width="6.94" height="6.91" fill="#470e61"/>
<rect x="422.83" y="357.87" width="6.94" height="6.91" fill="#470e61"/>
<rect x="429.47" y="357.87" width="6.94" height="6.91" fill="#48186a"/>
<rect x="436.12" y="357.87" width="6.94" height="6.91" fill="#481769"/>
<rect x="442.76" y="357.87" width="6.94" height="6.91" fill="#450457"/>
<rect x="323.20" y="364.48" width="6.94" height="6.91" fill="#481b6d"/>
<rect x="329.84" y="364.48" width="6.94" height="6.91" fill="#460a5d"/>
<rect x="336.48" y="364.48" width="6.94" height="6.91" fill="#470d60"/>
<rect x="343.13" y="364.48" width="6.94" height="6.91" fill="#471164"/>
<rect x="349.77" y="364.48" width="6.94" height="6.91" fill="#481769"/>
<rect x="356.41" y="364.48" width="6.94" height="6.91" fill="#46075a"/>
<rect x="363.05" y="364.48" width="6.94" height="6.91" fill="#470e61"/>
<rect x="369.69" y="364.48" width="6.94" height="6.91" fill="#48186a"/>
<rect x="376.34" y="364.48" width="6.94" height="6.91" fill="#460b5e"/>
<rect x="382.98" y="364.48" width="6.94" height="6.91" fill="#470d60"/>
<rect x="389.62" y="364.48" width="6.94" height="6.91" fill="#470e61"/>
<rect x="396.26" y="364.48" width="6.94" height="6.91" fill="#481a6c"/>
<rect x="402.91" y="364.48" width="6.94" height="6.91" fill="#481b6d"/>
<rect x="409.55" y="364.48" width="6.94" height="6.91" fill="#481668"/>
<rect x="416.19" y="364.48" width="6.94" height="6.91" fill="#481467"/>
<rect x="422.83" y="364.48" width="6.94" height="6.91" fill="#470d60"/>
<rect x="429.47" y="364.48" width="6.94" height="6.91" fill="#470d60"/>
<rect x="436.12" y="364.48" width="6.94" height="6.91" fill="#481769"/>
<rect x="442.76" y="364.48" width="6.94" height="6.91" fill="#470d60"/>
<rect x="323.20" y="371.08" width="6.94" height="6.91" fill="#481a6c"/>
<rect x="329.84" y="371.08" width="6.94" height="6.91" fill="#481668"/>
<rect x="336.48" y="371.08" width="6.94" height="6.91" fill="#481769"/>
<rect x="343.13" y="371.08" width="6.94" height="6.91" fill="#470d60"/>
<rect x="349.77" y="371.08" width="6.94" height="6.91" fill="#460a5d"/>
<rect x="356.41" y="371.08" width="6.94" height="6.91" fill="#471365"/>
<rect x="363.05" y="371.08" width="6.94" height="6.91" fill="#481467"/>
<rect x="369.69" y="371.08" width="6.94" height="6.91" fill="#470d60"/>
<rect x="376.34" y="371.08" width="6.94" height="6.91" fill="#460b5e"/>
<rect x="382.98" y="371.08" width="6.94" height="6.91" fill="#481b6d"/>
<rect x="389.62" y="371.08" width="6.94" height="6.91" fill="#481a6c"/>
<rect x="396.26" y="371.08" width="6.94" height="6.91" fill="#440154"/>
<rect x="402.91" y="371.08" width="6.94" height="6.91" fill="#450559"/>
<rect x="409.55" y="371.08" width="6.94" height="6.91" fill="#440154"/>
<rect x="416.19" y="371.08" width="6.94" height="6.91" fill="#481a6c"/>
<rect x="422.83" y="371.08" width="6.94" height="6.91" fill="#450559"/>
<rect x="429.47" y="371.08" width="6.94" height="6.91" fill="#470e61"/>
<rect x="436.12" y="371.08" width="6.94" height="6.91" fill="#481467"/>
<rect x="442.76" y="371.08" width="6.94" height="6.91" fill="#470d60"/>
<rect x="323.20" y="377.69" width="6.94" height="6.91" fill="#450559"/>
<rect x="329.84" y="377.69" width="6.94" height="6.91" fill="#46075a"/>
<rect x="336.48" y="377.69" width="6.94" height="6.91" fill="#460b5e"/>
<rect x="343.13" y="377.69" width="6.94" height="6.91" fill="#450457"/>
<rect x="349.77" y="377.69" width="6.94" height="6.91" fill="#460a5d"/>
<rect x="356.41" y="377.69" width="6.94" height="6.91" fill="#470e61"/>
<rect x="363.05" y="377.69" width="6.94" height="6.91" fill="#46075a"/>
<rect x="369.69" y="377.69" width="6.94" height="6.91" fill="#48186a"/>
<rect x="376.34" y="377.69" width="6.94" height="6.91" fill="#471365"/>
<rect x="382.98" y="377.69" width="6.94" height="6.91" fill="#481467"/>
<rect x="389.62" y="377.69" width="6.94" height="6.91" fill="#440256"/>
<rect x="396.26" y="377.69" width="6.94" height="6.91" fill="#471365"/>
<rect x="402.91" y="377.69" width="6.94" height="6.91" fill="#471164"/>
<rect x="409.55" y="377.69" width="6.94" height="6.91" fill="#440154"/>
<rect x="416.19" y="377.69" width="6.94" height="6.91" fill="#471164"/>
<rect x="422.83" y="377.69" width="6.94" height="6.91" fill="#46075a"/>
<rect x="429.47" y="377.69" width="6.94" height="6.91" fill="#470e61"/>
<rect x="436.12" y="377.69" width="6.94" height="6.91" fill="#471063"/>
<rect x="442.76" y="377.69" width="6.94" height="6.91" fill="#460a5d"/>
<rect x="323.20" y="384.29" width="6.94" height="6.91" fill="#450559"/>
<rect x="329.84" y="384.29" width="6.94" height="6.91" fill="#48186a"/>
<rect x="336.48" y="384.29" width="6.94" height="6.91" fill="#460a5d"/>
<rect x="343.13" y="384.29" width="6.94" height="6.91" fill="#471365"/>
<rect x="349.77" y="384.29" width="6.94" height="6.91" fill="#46085c"/>
<rect x="356.41" y="384.29" width="6.94" height="6.91" fill="#481a6c"/>
<rect x="363.05" y="384.29" width="6.94" height="6.91" fill="#471365"/>
<rect x="369.69" y="384.29" width="6.94" height="6.91" fill="#450457"/>
<rect x="376.34" y="384.29" width="6.94" height="6.91" fill="#470d60"/>
<rect x="382.98" y="384.29" width="6.94" height="6.91" fill="#48186a"/>
<rect x="389.62" y="384.29" width="6.94" height="6.91" fill="#481a6c"/>
<rect x="396.26" y="384.29" width="6.94" height="6.91" fill="#470e61"/>
<rect x="402.91" y="384.29" width="6.94" height="6.91" fill="#471063"/>
<rect x="409.55" y="384.29" width="6.94" height="6.91" fill="#481668"/>
<rect x="416.19" y="384.29" width="6.94" height="6.91" fill="#470d60"/>
<rect x="422.83" y="384.29" width="6.94" height="6.91" fill="#450559"/>
<rect x="429.47" y="384.29" width="6.94" height="6.91" fill="#481668"/>
<rect x="436.12" y="384.29" width="6.94" height="6.91" fill="#460a5d"/>
<rect x="442.76" y="384.29" width="6.94" height="6.91" fill="#440256"/>
</g>
<rect x="323.20" y="265.40" width="126.20" height="125.50" fill="none" stroke="#111" stroke-width="0.9"/>
<line x1="319.33" y1="268.70" x2="323.20" y2="268.70" stroke="#222" stroke-width="1.1"/>
<text x="314.29" y="272.29" class="tk" text-anchor="end" style="font-size:11.43px">0</text>
<line x1="319.33" y1="301.73" x2="323.20" y2="301.73" stroke="#222" stroke-width="1.1"/>
<text x="314.29" y="305.31" class="tk" text-anchor="end" style="font-size:11.43px">5</text>
<line x1="319.33" y1="334.76" x2="323.20" y2="334.76" stroke="#222" stroke-width="1.1"/>
<text x="314.29" y="338.34" class="tk" text-anchor="end" textLength="10.65" lengthAdjust="spacingAndGlyphs" style="font-size:11.43px">10</text>
<line x1="319.33" y1="367.78" x2="323.20" y2="367.78" stroke="#222" stroke-width="1.1"/>
<text x="314.29" y="371.36" class="tk" text-anchor="end" textLength="10.65" lengthAdjust="spacingAndGlyphs" style="font-size:11.43px">15</text>
<line x1="326.52" y1="390.90" x2="326.52" y2="394.77" stroke="#222" stroke-width="1.1"/>
<text x="326.52" y="407.17" class="tk" text-anchor="middle" style="font-size:11.43px">0</text>
<line x1="392.94" y1="390.90" x2="392.94" y2="394.77" stroke="#222" stroke-width="1.1"/>
<text x="392.94" y="407.17" class="tk" text-anchor="middle" textLength="10.65" lengthAdjust="spacingAndGlyphs" style="font-size:11.43px">10</text>
<text x="364.50" y="257.60" class="tt" textLength="43.70" lengthAdjust="spacingAndGlyphs" style="font-size:15.10px">MIP xz</text>
<g shape-rendering="crispEdges">
<rect x="577.40" y="264.60" width="127.50" height="126.70" fill="#440154"/>
<rect x="577.40" y="264.60" width="7.01" height="6.97" fill="#470e61"/>
<rect x="584.11" y="264.60" width="7.01" height="6.97" fill="#481a6c"/>
<rect x="590.82" y="264.60" width="7.01" height="6.97" fill="#471063"/>
<rect x="597.53" y="264.60" width="7.01" height="6.97" fill="#48186a"/>
<rect x="604.24" y="264.60" width="7.01" height="6.97" fill="#471164"/>
<rect x="610.95" y="264.60" width="7.01" height="6.97" fill="#481c6e"/>
<rect x="617.66" y="264.60" width="7.01" height="6.97" fill="#460a5d"/>
<rect x="624.37" y="264.60" width="7.01" height="6.97" fill="#471365"/>
<rect x="631.08" y="264.60" width="7.01" height="6.97" fill="#470e61"/>
<rect x="637.79" y="264.60" width="7.01" height="6.97" fill="#471063"/>
<rect x="644.51" y="264.60" width="7.01" height="6.97" fill="#460a5d"/>
<rect x="651.22" y="264.60" width="7.01" height="6.97" fill="#481769"/>
<rect x="657.93" y="264.60" width="7.01" height="6.97" fill="#481769"/>
<rect x="664.64" y="264.60" width="7.01" height="6.97" fill="#471365"/>
<rect x="671.35" y="264.60" width="7.01" height="6.97" fill="#471164"/>
<rect x="678.06" y="264.60" width="7.01" height="6.97" fill="#440154"/>
<rect x="684.77" y="264.60" width="7.01" height="6.97" fill="#481668"/>
<rect x="691.48" y="264.60" width="7.01" height="6.97" fill="#460a5d"/>
<rect x="698.19" y="264.60" width="7.01" height="6.97" fill="#440256"/>
<rect x="577.40" y="271.27" width="7.01" height="6.97" fill="#46075a"/>
<rect x="584.11" y="271.27" width="7.01" height="6.97" fill="#46085c"/>
<rect x="590.82" y="271.27" width="7.01" height="6.97" fill="#450457"/>
<rect x="597.53" y="271.27" width="7.01" height="6.97" fill="#470e61"/>
<rect x="604.24" y="271.27" width="7.01" height="6.97" fill="#48186a"/>
<rect x="610.95" y="271.27" width="7.01" height="6.97" fill="#471164"/>
<rect x="617.66" y="271.27" width="7.01" height="6.97" fill="#460b5e"/>
<rect x="624.37" y="271.27" width="7.01" height="6.97" fill="#460a5d"/>
<rect x="631.08" y="271.27" width="7.01" height="6.97" fill="#48186a"/>
<rect x="637.79" y="271.27" width="7.01" height="6.97" fill="#481467"/>
<rect x="644.51" y="271.27" width="7.01" height="6.97" fill="#471063"/>
<rect x="651.22" y="271.27" width="7.01" height="6.97" fill="#46085c"/>
<rect x="657.93" y="271.27" width="7.01" height="6.97" fill="#481a6c"/>
<rect x="664.64" y="271.27" width="7.01" height="6.97" fill="#471365"/>
<rect x="671.35" y="271.27" width="7.01" height="6.97" fill="#48186a"/>
<rect x="678.06" y="271.27" width="7.01" height="6.97" fill="#46085c"/>
<rect x="684.77" y="271.27" width="7.01" height="6.97" fill="#471164"/>
<rect x="691.48" y="271.27" width="7.01" height="6.97" fill="#470d60"/>
<rect x="698.19" y="271.27" width="7.01" height="6.97" fill="#460a5d"/>
<rect x="577.40" y="277.94" width="7.01" height="6.97" fill="#481769"/>
<rect x="584.11" y="277.94" width="7.01" height="6.97" fill="#471164"/>
<rect x="590.82" y="277.94" width="7.01" height="6.97" fill="#481c6e"/>
<rect x="597.53" y="277.94" width="7.01" height="6.97" fill="#481769"/>
<rect x="604.24" y="277.94" width="7.01" height="6.97" fill="#440154"/>
<rect x="610.95" y="277.94" width="7.01" height="6.97" fill="#471164"/>
<rect x="617.66" y="277.94" width="7.01" height="6.97" fill="#46085c"/>
<rect x="624.37" y="277.94" width="7.01" height="6.97" fill="#481769"/>
<rect x="631.08" y="277.94" width="7.01" height="6.97" fill="#481769"/>
<rect x="637.79" y="277.94" width="7.01" height="6.97" fill="#450559"/>
<rect x="644.51" y="277.94" width="7.01" height="6.97" fill="#481a6c"/>
<rect x="651.22" y="277.94" width="7.01" height="6.97" fill="#471063"/>
<rect x="657.93" y="277.94" width="7.01" height="6.97" fill="#48186a"/>
<rect x="664.64" y="277.94" width="7.01" height="6.97" fill="#471365"/>
<rect x="671.35" y="277.94" width="7.01" height="6.97" fill="#450457"/>
<rect x="678.06" y="277.94" width="7.01" height="6.97" fill="#471063"/>
<rect x="684.77" y="277.94" width="7.01" height="6.97" fill="#470d60"/>
<rect x="691.48" y="277.94" width="7.01" height="6.97" fill="#440154"/>
<rect x="698.19" y="277.94" width="7.01" height="6.97" fill="#450457"/>
<rect x="577.40" y="284.61" width="7.01" height="6.97" fill="#440256"/>
<rect x="584.11" y="284.61" width="7.01" height="6.97" fill="#481a6c"/>
<rect x="590.82" y="284.61" width="7.01" height="6.97" fill="#470e61"/>
<rect x="597.53" y="284.61" width="7.01" height="6.97" fill="#450559"/>
<rect x="604.24" y="284.61" width="7.01" height="6.97" fill="#460a5d"/>
<rect x="610.95" y="284.61" width="7.01" height="6.97" fill="#46075a"/>
<rect x="617.66" y="284.61" width="7.01" height="6.97" fill="#46085c"/>
<rect x="624.37" y="284.61" width="7.01" height="6.97" fill="#460b5e"/>
<rect x="631.08" y="284.61" width="7.01" height="6.97" fill="#470d60"/>
<rect x="637.79" y="284.61" width="7.01" height="6.97" fill="#470e61"/>
<rect x="644.51" y="284.61" width="7.01" height="6.97" fill="#481b6d"/>
<rect x="651.22" y="284.61" width="7.01" height="6.97" fill="#440154"/>
<rect x="657.93" y="284.61" width="7.01" height="6.97" fill="#470d60"/>
<rect x="664.64" y="284.61" width="7.01" height="6.97" fill="#46075a"/>
<rect x="671.35" y="284.61" width="7.01" height="6.97" fill="#481a6c"/>
<rect x="678.06" y="284.61" width="7.01" height="6.97" fill="#460a5d"/>
<rect x="684.77" y="284.61" width="7.01" height="6.97" fill="#46075a"/>
<rect x="691.48" y="284.61" width="7.01" height="6.97" fill="#48186a"/>
<rect x="698.19" y="284.61" width="7.01" height="6.97" fill="#450559"/>
<rect x="577.40" y="291.27" width="7.01" height="6.97" fill="#46075a"/>
<rect x="584.11" y="291.27" width="7.01" height="6.97" fill="#46075a"/>
<rect x="590.82" y="291.27" width="7.01" height="6.97" fill="#460a5d"/>
<rect x="597.53" y="291.27" width="7.01" height="6.97" fill="#450457"/>
<rect x="604.24" y="291.27" width="7.01" height="6.97" fill="#46075a"/>
<rect x="610.95" y="291.27" width="7.01" height="6.97" fill="#450457"/>
<rect x="617.66" y="291.27" width="7.01" height="6.97" fill="#440154"/>
<rect x="624.37" y="291.27" width="7.01" height="6.97" fill="#46085c"/>
<rect x="631.08" y="291.27" width="7.01" height="6.97" fill="#2a788e"/>
<rect x="637.79" y="291.27" width="7.01" height="6.97" fill="#1e9c89"/>
<rect x="644.51" y="291.27" width="7.01" height="6.97" fill="#375a8c"/>
<rect x="651.22" y="291.27" width="7.01" height="6.97" fill="#46085c"/>
<rect x="657.93" y="291.27" width="7.01" height="6.97" fill="#440154"/>
<rect x="664.64" y="291.27" width="7.01" height="6.97" fill="#440154"/>
<rect x="671.35" y="291.27" width="7.01" height="6.97" fill="#46075a"/>
<rect x="678.06" y="291.27" width="7.01" height="6.97" fill="#46075a"/>
<rect x="684.77" y="291.27" width="7.01" height="6.97" fill="#46075a"/>
<rect x="691.48" y="291.27" width="7.01" height="6.97" fill="#460a5d"/>
<rect x="698.19" y="291.27" width="7.01" height="6.97" fill="#450457"/>
<rect x="577.40" y="297.94" width="7.01" height="6.97" fill="#46075a"/>
<rect x="584.11" y="297.94" width="7.01" height="6.97" fill="#46085c"/>
<rect x="590.82" y="297.94" width="7.01" height="6.97" fill="#450559"/>
<rect x="597.53" y="297.94" width="7.01" height="6.97" fill="#450457"/>
<rect x="604.24" y="297.94" width="7.01" height="6.97" fill="#46085c"/>
<rect x="610.95" y="297.94" width="7.01" height="6.97" fill="#450457"/>
<rect x="617.66" y="297.94" width="7.01" height="6.97" fill="#46075a"/>
<rect x="624.37" y="297.94" width="7.01" height="6.97" fill="#443a83"/>
<rect x="631.08" y="297.94" width="7.01" height="6.97" fill="#52c569"/>
<rect x="637.79" y="297.94" width="7.01" height="6.97" fill="#f1e51d"/>
<rect x="644.51" y="297.94" width="7.01" height="6.97" fill="#22a884"/>
<rect x="651.22" y="297.94" width="7.01" height="6.97" fill="#482173"/>
<rect x="657.93" y="297.94" width="7.01" height="6.97" fill="#460a5d"/>
<rect x="664.64" y="297.94" width="7.01" height="6.97" fill="#450559"/>
<rect x="671.35" y="297.94" width="7.01" height="6.97" fill="#440154"/>
<rect x="678.06" y="297.94" width="7.01" height="6.97" fill="#450559"/>
<rect x="684.77" y="297.94" width="7.01" height="6.97" fill="#46085c"/>
<rect x="691.48" y="297.94" width="7.01" height="6.97" fill="#46075a"/>
<rect x="698.19" y="297.94" width="7.01" height="6.97" fill="#440256"/>
<rect x="577.40" y="304.61" width="7.01" height="6.97" fill="#46075a"/>
<rect x="584.11" y="304.61" width="7.01" height="6.97" fill="#450457"/>
<rect x="590.82" y="304.61" width="7.01" height="6.97" fill="#460a5d"/>
<rect x="597.53" y="304.61" width="7.01" height="6.97" fill="#440154"/>
<rect x="604.24" y="304.61" width="7.01" height="6.97" fill="#46085c"/>
<rect x="610.95" y="304.61" width="7.01" height="6.97" fill="#440256"/>
<rect x="617.66" y="304.61" width="7.01" height="6.97" fill="#46075a"/>
<rect x="624.37" y="304.61" width="7.01" height="6.97" fill="#287d8e"/>
<rect x="631.08" y="304.61" width="7.01" height="6.97" fill="#7ad151"/>
<rect x="637.79" y="304.61" width="7.01" height="6.97" fill="#bddf26"/>
<rect x="644.51" y="304.61" width="7.01" height="6.97" fill="#20a386"/>
<rect x="651.22" y="304.61" width="7.01" height="6.97" fill="#3b528b"/>
<rect x="657.93" y="304.61" width="7.01" height="6.97" fill="#450457"/>
<rect x="664.64" y="304.61" width="7.01" height="6.97" fill="#450457"/>
<rect x="671.35" y="304.61" width="7.01" height="6.97" fill="#450559"/>
<rect x="678.06" y="304.61" width="7.01" height="6.97" fill="#46085c"/>
<rect x="684.77" y="304.61" width="7.01" height="6.97" fill="#440154"/>
<rect x="691.48" y="304.61" width="7.01" height="6.97" fill="#46075a"/>
<rect x="698.19" y="304.61" width="7.01" height="6.97" fill="#450457"/>
<rect x="577.40" y="311.28" width="7.01" height="6.97" fill="#46075a"/>
<rect x="584.11" y="311.28" width="7.01" height="6.97" fill="#440154"/>
<rect x="590.82" y="311.28" width="7.01" height="6.97" fill="#450559"/>
<rect x="597.53" y="311.28" width="7.01" height="6.97" fill="#450457"/>
<rect x="604.24" y="311.28" width="7.01" height="6.97" fill="#440154"/>
<rect x="610.95" y="311.28" width="7.01" height="6.97" fill="#440154"/>
<rect x="617.66" y="311.28" width="7.01" height="6.97" fill="#472d7b"/>
<rect x="624.37" y="311.28" width="7.01" height="6.97" fill="#20a386"/>
<rect x="631.08" y="311.28" width="7.01" height="6.97" fill="#7ad151"/>
<rect x="637.79" y="311.28" width="7.01" height="6.97" fill="#ece51b"/>
<rect x="644.51" y="311.28" width="7.01" height="6.97" fill="#44bf70"/>
<rect x="651.22" y="311.28" width="7.01" height="6.97" fill="#287d8e"/>
<rect x="657.93" y="311.28" width="7.01" height="6.97" fill="#46085c"/>
<rect x="664.64" y="311.28" width="7.01" height="6.97" fill="#46085c"/>
<rect x="671.35" y="311.28" width="7.01" height="6.97" fill="#440154"/>
<rect x="678.06" y="311.28" width="7.01" height="6.97" fill="#46075a"/>
<rect x="684.77" y="311.28" width="7.01" height="6.97" fill="#440154"/>
<rect x="691.48" y="311.28" width="7.01" height="6.97" fill="#46085c"/>
<rect x="698.19" y="311.28" width="7.01" height="6.97" fill="#460a5d"/>
<rect x="577.40" y="317.95" width="7.01" height="6.97" fill="#450559"/>
<rect x="584.11" y="317.95" width="7.01" height="6.97" fill="#450457"/>
<rect x="590.82" y="317.95" width="7.01" height="6.97" fill="#450559"/>
<rect x="597.53" y="317.95" width="7.01" height="6.97" fill="#450559"/>
<rect x="604.24" y="317.95" width="7.01" height="6.97" fill="#46085c"/>
<rect x="610.95" y="317.95" width="7.01" height="6.97" fill="#440256"/>
<rect x="617.66" y="317.95" width="7.01" height="6.97" fill="#414487"/>
<rect x="624.37" y="317.95" width="7.01" height="6.97" fill="#22a884"/>
<rect x="631.08" y="317.95" width="7.01" height="6.97" fill="#6ece58"/>
<rect x="637.79" y="317.95" width="7.01" height="6.97" fill="#b0dd2f"/>
<rect x="644.51" y="317.95" width="7.01" height="6.97" fill="#52c569"/>
<rect x="651.22" y="317.95" width="7.01" height="6.97" fill="#287d8e"/>
<rect x="657.93" y="317.95" width="7.01" height="6.97" fill="#46085c"/>
<rect x="664.64" y="317.95" width="7.01" height="6.97" fill="#46075a"/>
<rect x="671.35" y="317.95" width="7.01" height="6.97" fill="#460a5d"/>
<rect x="678.06" y="317.95" width="7.01" height="6.97" fill="#460a5d"/>
<rect x="684.77" y="317.95" width="7.01" height="6.97" fill="#450457"/>
<rect x="691.48" y="317.95" width="7.01" height="6.97" fill="#46085c"/>
<rect x="698.19" y="317.95" width="7.01" height="6.97" fill="#450457"/>
<rect x="577.40" y="324.62" width="7.01" height="6.97" fill="#450457"/>
<rect x="584.11" y="324.62" width="7.01" height="6.97" fill="#46075a"/>
<rect x="590.82" y="324.62" width="7.01" height="6.97" fill="#440154"/>
<rect x="597.53" y="324.62" width="7.01" height="6.97" fill="#440154"/>
<rect x="604.24" y="324.62" width="7.01" height="6.97" fill="#460a5d"/>
<rect x="610.95" y="324.62" width="7.01" height="6.97" fill="#440256"/>
<rect x="617.66" y="324.62" width="7.01" height="6.97" fill="#414487"/>
<rect x="624.37" y="324.62" width="7.01" height="6.97" fill="#22a884"/>
<rect x="631.08" y="324.62" width="7.01" height="6.97" fill="#6ece58"/>
<rect x="637.79" y="324.62" width="7.01" height="6.97" fill="#a2da37"/>
<rect x="644.51" y="324.62" width="7.01" height="6.97" fill="#4ec36b"/>
<rect x="651.22" y="324.62" width="7.01" height="6.97" fill="#2a788e"/>
<rect x="657.93" y="324.62" width="7.01" height="6.97" fill="#440154"/>
<rect x="664.64" y="324.62" width="7.01" height="6.97" fill="#450559"/>
<rect x="671.35" y="324.62" width="7.01" height="6.97" fill="#450559"/>
<rect x="678.06" y="324.62" width="7.01" height="6.97" fill="#46075a"/>
<rect x="684.77" y="324.62" width="7.01" height="6.97" fill="#46085c"/>
<rect x="691.48" y="324.62" width="7.01" height="6.97" fill="#460a5d"/>
<rect x="698.19" y="324.62" width="7.01" height="6.97" fill="#450457"/>
<rect x="577.40" y="331.28" width="7.01" height="6.97" fill="#450457"/>
<rect x="584.11" y="331.28" width="7.01" height="6.97" fill="#440256"/>
<rect x="590.82" y="331.28" width="7.01" height="6.97" fill="#46085c"/>
<rect x="597.53" y="331.28" width="7.01" height="6.97" fill="#440154"/>
<rect x="604.24" y="331.28" width="7.01" height="6.97" fill="#440256"/>
<rect x="610.95" y="331.28" width="7.01" height="6.97" fill="#450559"/>
<rect x="617.66" y="331.28" width="7.01" height="6.97" fill="#453581"/>
<rect x="624.37" y="331.28" width="7.01" height="6.97" fill="#1f978b"/>
<rect x="631.08" y="331.28" width="7.01" height="6.97" fill="#7ad151"/>
<rect x="637.79" y="331.28" width="7.01" height="6.97" fill="#fde725"/>
<rect x="644.51" y="331.28" width="7.01" height="6.97" fill="#52c569"/>
<rect x="651.22" y="331.28" width="7.01" height="6.97" fill="#355f8d"/>
<rect x="657.93" y="331.28" width="7.01" height="6.97" fill="#460a5d"/>
<rect x="664.64" y="331.28" width="7.01" height="6.97" fill="#440154"/>
<rect x="671.35" y="331.28" width="7.01" height="6.97" fill="#450559"/>
<rect x="678.06" y="331.28" width="7.01" height="6.97" fill="#440256"/>
<rect x="684.77" y="331.28" width="7.01" height="6.97" fill="#46085c"/>
<rect x="691.48" y="331.28" width="7.01" height="6.97" fill="#440256"/>
<rect x="698.19" y="331.28" width="7.01" height="6.97" fill="#450457"/>
<rect x="577.40" y="337.95" width="7.01" height="6.97" fill="#46075a"/>
<rect x="584.11" y="337.95" width="7.01" height="6.97" fill="#440154"/>
<rect x="590.82" y="337.95" width="7.01" height="6.97" fill="#440154"/>
<rect x="597.53" y="337.95" width="7.01" height="6.97" fill="#440154"/>
<rect x="604.24" y="337.95" width="7.01" height="6.97" fill="#46075a"/>
<rect x="610.95" y="337.95" width="7.01" height="6.97" fill="#46075a"/>
<rect x="617.66" y="337.95" width="7.01" height="6.97" fill="#450457"/>
<rect x="624.37" y="337.95" width="7.01" height="6.97" fill="#287d8e"/>
<rect x="631.08" y="337.95" width="7.01" height="6.97" fill="#5ec962"/>
<rect x="637.79" y="337.95" width="7.01" height="6.97" fill="#f1e51d"/>
<rect x="644.51" y="337.95" width="7.01" height="6.97" fill="#21918c"/>
<rect x="651.22" y="337.95" width="7.01" height="6.97" fill="#414487"/>
<rect x="657.93" y="337.95" width="7.01" height="6.97" fill="#450559"/>
<rect x="664.64" y="337.95" width="7.01" height="6.97" fill="#460a5d"/>
<rect x="671.35" y="337.95" width="7.01" height="6.97" fill="#46085c"/>
<rect x="678.06" y="337.95" width="7.01" height="6.97" fill="#460a5d"/>
<rect x="684.77" y="337.95" width="7.01" height="6.97" fill="#46075a"/>
<rect x="691.48" y="337.95" width="7.01" height="6.97" fill="#460a5d"/>
<rect x="698.19" y="337.95" width="7.01" height="6.97" fill="#450559"/>
<rect x="577.40" y="344.62" width="7.01" height="6.97" fill="#46075a"/>
<rect x="584.11" y="344.62" width="7.01" height="6.97" fill="#440256"/>
<rect x="590.82" y="344.62" width="7.01" height="6.97" fill="#46085c"/>
<rect x="597.53" y="344.62" width="7.01" height="6.97" fill="#450457"/>
<rect x="604.24" y="344.62" width="7.01" height="6.97" fill="#460a5d"/>
<rect x="610.95" y="344.62" width="7.01" height="6.97" fill="#46075a"/>
<rect x="617.66" y="344.62" width="7.01" height="6.97" fill="#450559"/>
<rect x="624.37" y="344.62" width="7.01" height="6.97" fill="#472d7b"/>
<rect x="631.08" y="344.62" width="7.01" height="6.97" fill="#1e9c89"/>
<rect x="637.79" y="344.62" width="7.01" height="6.97" fill="#bddf26"/>
<rect x="644.51" y="344.62" width="7.01" height="6.97" fill="#2a788e"/>
<rect x="651.22" y="344.62" width="7.01" height="6.97" fill="#440256"/>
<rect x="657.93" y="344.62" width="7.01" height="6.97" fill="#46085c"/>
<rect x="664.64" y="344.62" width="7.01" height="6.97" fill="#450457"/>
<rect x="671.35" y="344.62" width="7.01" height="6.97" fill="#440154"/>
<rect x="678.06" y="344.62" width="7.01" height="6.97" fill="#440154"/>
<rect x="684.77" y="344.62" width="7.01" height="6.97" fill="#46075a"/>
<rect x="691.48" y="344.62" width="7.01" height="6.97" fill="#46085c"/>
<rect x="698.19" y="344.62" width="7.01" height="6.97" fill="#46075a"/>
<rect x="577.40" y="351.29" width="7.01" height="6.97" fill="#46085c"/>
<rect x="584.11" y="351.29" width="7.01" height="6.97" fill="#470e61"/>
<rect x="590.82" y="351.29" width="7.01" height="6.97" fill="#470d60"/>
<rect x="597.53" y="351.29" width="7.01" height="6.97" fill="#460b5e"/>
<rect x="604.24" y="351.29" width="7.01" height="6.97" fill="#471063"/>
<rect x="610.95" y="351.29" width="7.01" height="6.97" fill="#440256"/>
<rect x="617.66" y="351.29" width="7.01" height="6.97" fill="#471063"/>
<rect x="624.37" y="351.29" width="7.01" height="6.97" fill="#460a5d"/>
<rect x="631.08" y="351.29" width="7.01" height="6.97" fill="#470e61"/>
<rect x="637.79" y="351.29" width="7.01" height="6.97" fill="#287d8e"/>
<rect x="644.51" y="351.29" width="7.01" height="6.97" fill="#481a6c"/>
<rect x="651.22" y="351.29" width="7.01" height="6.97" fill="#471164"/>
<rect x="657.93" y="351.29" width="7.01" height="6.97" fill="#460a5d"/>
<rect x="664.64" y="351.29" width="7.01" height="6.97" fill="#470d60"/>
<rect x="671.35" y="351.29" width="7.01" height="6.97" fill="#471365"/>
<rect x="678.06" y="351.29" width="7.01" height="6.97" fill="#46075a"/>
<rect x="684.77" y="351.29" width="7.01" height="6.97" fill="#470e61"/>
<rect x="691.48" y="351.29" width="7.01" height="6.97" fill="#471365"/>
<rect x="698.19" y="351.29" width="7.01" height="6.97" fill="#481769"/>
<rect x="577.40" y="357.96" width="7.01" height="6.97" fill="#481c6e"/>
<rect x="584.11" y="357.96" width="7.01" height="6.97" fill="#450457"/>
<rect x="590.82" y="357.96" width="7.01" height="6.97" fill="#46075a"/>
<rect x="597.53" y="357.96" width="7.01" height="6.97" fill="#460b5e"/>
<rect x="604.24" y="357.96" width="7.01" height="6.97" fill="#46075a"/>
<rect x="610.95" y="357.96" width="7.01" height="6.97" fill="#450559"/>
<rect x="617.66" y="357.96" width="7.01" height="6.97" fill="#481668"/>
<rect x="624.37" y="357.96" width="7.01" height="6.97" fill="#450559"/>
<rect x="631.08" y="357.96" width="7.01" height="6.97" fill="#440256"/>
<rect x="637.79" y="357.96" width="7.01" height="6.97" fill="#470e61"/>
<rect x="644.51" y="357.96" width="7.01" height="6.97" fill="#46075a"/>
<rect x="651.22" y="357.96" width="7.01" height="6.97" fill="#481b6d"/>
<rect x="657.93" y="357.96" width="7.01" height="6.97" fill="#460a5d"/>
<rect x="664.64" y="357.96" width="7.01" height="6.97" fill="#481b6d"/>
<rect x="671.35" y="357.96" width="7.01" height="6.97" fill="#471365"/>
<rect x="678.06" y="357.96" width="7.01" height="6.97" fill="#440256"/>
<rect x="684.77" y="357.96" width="7.01" height="6.97" fill="#440154"/>
<rect x="691.48" y="357.96" width="7.01" height="6.97" fill="#460a5d"/>
<rect x="698.19" y="357.96" width="7.01" height="6.97" fill="#481a6c"/>
<rect x="577.40" y="364.63" width="7.01" height="6.97" fill="#450559"/>
<rect x="584.11" y="364.63" width="7.01" height="6.97" fill="#450457"/>
<rect x="590.82" y="364.63" width="7.01" height="6.97" fill="#440154"/>
<rect x="597.53" y="364.63" width="7.01" height="6.97" fill="#481a6c"/>
<rect x="604.24" y="364.63" width="7.01" height="6.97" fill="#48186a"/>
<rect x="610.95" y="364.63" width="7.01" height="6.97" fill="#481a6c"/>
<rect x="617.66" y="364.63" width="7.01" height="6.97" fill="#481769"/>
<rect x="624.37" y="364.63" width="7.01" height="6.97" fill="#481b6d"/>
<rect x="631.08" y="364.63" width="7.01" height="6.97" fill="#440256"/>
<rect x="637.79" y="364.63" width="7.01" height="6.97" fill="#471164"/>
<rect x="644.51" y="364.63" width="7.01" height="6.97" fill="#46075a"/>
<rect x="651.22" y="364.63" width="7.01" height="6.97" fill="#46075a"/>
<rect x="657.93" y="364.63" width="7.01" height="6.97" fill="#470d60"/>
<rect x="664.64" y="364.63" width="7.01" height="6.97" fill="#450457"/>
<rect x="671.35" y="364.63" width="7.01" height="6.97" fill="#460b5e"/>
<rect x="678.06" y="364.63" width="7.01" height="6.97" fill="#460a5d"/>
<rect x="684.77" y="364.63" width="7.01" height="6.97" fill="#440256"/>
<rect x="691.48" y="364.63" width="7.01" height="6.97" fill="#481b6d"/>
<rect x="698.19" y="364.63" width="7.01" height="6.97" fill="#481c6e"/>
<rect x="577.40" y="371.29" width="7.01" height="6.97" fill="#48186a"/>
<rect x="584.11" y="371.29" width="7.01" height="6.97" fill="#48186a"/>
<rect x="590.82" y="371.29" width="7.01" height="6.97" fill="#481769"/>
<rect x="597.53" y="371.29" width="7.01" height="6.97" fill="#471164"/>
<rect x="604.24" y="371.29" width="7.01" height="6.97" fill="#460b5e"/>
<rect x="610.95" y="371.29" width="7.01" height="6.97" fill="#450457"/>
<rect x="617.66" y="371.29" width="7.01" height="6.97" fill="#46075a"/>
<rect x="624.37" y="371.29" width="7.01" height="6.97" fill="#471164"/>
<rect x="631.08" y="371.29" width="7.01" height="6.97" fill="#470e61"/>
<rect x="637.79" y="371.29" width="7.01" height="6.97" fill="#471063"/>
<rect x="644.51" y="371.29" width="7.01" height="6.97" fill="#450457"/>
<rect x="651.22" y="371.29" width="7.01" height="6.97" fill="#481668"/>
<rect x="657.93" y="371.29" width="7.01" height="6.97" fill="#470e61"/>
<rect x="664.64" y="371.29" width="7.01" height="6.97" fill="#471365"/>
<rect x="671.35" y="371.29" width="7.01" height="6.97" fill="#481668"/>
<rect x="678.06" y="371.29" width="7.01" height="6.97" fill="#440256"/>
<rect x="684.77" y="371.29" width="7.01" height="6.97" fill="#460b5e"/>
<rect x="691.48" y="371.29" width="7.01" height="6.97" fill="#481668"/>
<rect x="698.19" y="371.29" width="7.01" height="6.97" fill="#471365"/>
<rect x="577.40" y="377.96" width="7.01" height="6.97" fill="#470e61"/>
<rect x="584.11" y="377.96" width="7.01" height="6.97" fill="#471164"/>
<rect x="590.82" y="377.96" width="7.01" height="6.97" fill="#440154"/>
<rect x="597.53" y="377.96" width="7.01" height="6.97" fill="#440256"/>
<rect x="604.24" y="377.96" width="7.01" height="6.97" fill="#471365"/>
<rect x="610.95" y="377.96" width="7.01" height="6.97" fill="#450457"/>
<rect x="617.66" y="377.96" width="7.01" height="6.97" fill="#440256"/>
<rect x="624.37" y="377.96" width="7.01" height="6.97" fill="#481769"/>
<rect x="631.08" y="377.96" width="7.01" height="6.97" fill="#471063"/>
<rect x="637.79" y="377.96" width="7.01" height="6.97" fill="#481467"/>
<rect x="644.51" y="377.96" width="7.01" height="6.97" fill="#481668"/>
<rect x="651.22" y="377.96" width="7.01" height="6.97" fill="#46075a"/>
<rect x="657.93" y="377.96" width="7.01" height="6.97" fill="#46075a"/>
<rect x="664.64" y="377.96" width="7.01" height="6.97" fill="#460b5e"/>
<rect x="671.35" y="377.96" width="7.01" height="6.97" fill="#46085c"/>
<rect x="678.06" y="377.96" width="7.01" height="6.97" fill="#481b6d"/>
<rect x="684.77" y="377.96" width="7.01" height="6.97" fill="#481467"/>
<rect x="691.48" y="377.96" width="7.01" height="6.97" fill="#450457"/>
<rect x="698.19" y="377.96" width="7.01" height="6.97" fill="#440154"/>
<rect x="577.40" y="384.63" width="7.01" height="6.97" fill="#471063"/>
<rect x="584.11" y="384.63" width="7.01" height="6.97" fill="#471164"/>
<rect x="590.82" y="384.63" width="7.01" height="6.97" fill="#470d60"/>
<rect x="597.53" y="384.63" width="7.01" height="6.97" fill="#46085c"/>
<rect x="604.24" y="384.63" width="7.01" height="6.97" fill="#481467"/>
<rect x="610.95" y="384.63" width="7.01" height="6.97" fill="#450457"/>
<rect x="617.66" y="384.63" width="7.01" height="6.97" fill="#450457"/>
<rect x="624.37" y="384.63" width="7.01" height="6.97" fill="#460a5d"/>
<rect x="631.08" y="384.63" width="7.01" height="6.97" fill="#471063"/>
<rect x="637.79" y="384.63" width="7.01" height="6.97" fill="#470d60"/>
<rect x="644.51" y="384.63" width="7.01" height="6.97" fill="#481467"/>
<rect x="651.22" y="384.63" width="7.01" height="6.97" fill="#470e61"/>
<rect x="657.93" y="384.63" width="7.01" height="6.97" fill="#48186a"/>
<rect x="664.64" y="384.63" width="7.01" height="6.97" fill="#481b6d"/>
<rect x="671.35" y="384.63" width="7.01" height="6.97" fill="#48186a"/>
<rect x="678.06" y="384.63" width="7.01" height="6.97" fill="#440154"/>
<rect x="684.77" y="384.63" width="7.01" height="6.97" fill="#450559"/>
<rect x="691.48" y="384.63" width="7.01" height="6.97" fill="#48186a"/>
<rect x="698.19" y="384.63" width="7.01" height="6.97" fill="#440256"/>
</g>
<rect x="577.40" y="264.60" width="127.50" height="126.70" fill="none" stroke="#111" stroke-width="0.9"/>
<line x1="573.49" y1="267.93" x2="577.40" y2="267.93" stroke="#222" stroke-width="1.1"/>
<text x="568.40" y="271.55" class="tk" text-anchor="end" style="font-size:11.54px">0</text>
<line x1="573.49" y1="301.28" x2="577.40" y2="301.28" stroke="#222" stroke-width="1.1"/>
<text x="568.40" y="304.90" class="tk" text-anchor="end" style="font-size:11.54px">5</text>
<line x1="573.49" y1="334.62" x2="577.40" y2="334.62" stroke="#222" stroke-width="1.1"/>
<text x="568.40" y="338.24" class="tk" text-anchor="end" textLength="10.76" lengthAdjust="spacingAndGlyphs" style="font-size:11.54px">10</text>
<line x1="573.49" y1="367.96" x2="577.40" y2="367.96" stroke="#222" stroke-width="1.1"/>
<text x="568.40" y="371.58" class="tk" text-anchor="end" textLength="10.76" lengthAdjust="spacingAndGlyphs" style="font-size:11.54px">15</text>
<line x1="580.76" y1="391.30" x2="580.76" y2="395.21" stroke="#222" stroke-width="1.1"/>
<text x="580.76" y="407.73" class="tk" text-anchor="middle" style="font-size:11.54px">0</text>
<line x1="647.86" y1="391.30" x2="647.86" y2="395.21" stroke="#222" stroke-width="1.1"/>
<text x="647.86" y="407.73" class="tk" text-anchor="middle" textLength="10.76" lengthAdjust="spacingAndGlyphs" style="font-size:11.54px">10</text>
<text x="618.80" y="257.60" class="tt" textLength="44.10" lengthAdjust="spacingAndGlyphs" style="font-size:15.26px">MIP yz</text>
<g shape-rendering="crispEdges">
<rect x="835.20" y="263.40" width="127.60" height="127.50" fill="#440154"/>
<rect x="835.20" y="263.40" width="7.02" height="7.01" fill="#460a5d"/>
<rect x="841.92" y="263.40" width="7.02" height="7.01" fill="#46075a"/>
<rect x="848.63" y="263.40" width="7.02" height="7.01" fill="#440154"/>
<rect x="855.35" y="263.40" width="7.02" height="7.01" fill="#481a6c"/>
<rect x="862.06" y="263.40" width="7.02" height="7.01" fill="#460a5d"/>
<rect x="868.78" y="263.40" width="7.02" height="7.01" fill="#440154"/>
<rect x="875.49" y="263.40" width="7.02" height="7.01" fill="#46075a"/>
<rect x="882.21" y="263.40" width="7.02" height="7.01" fill="#470e61"/>
<rect x="888.93" y="263.40" width="7.02" height="7.01" fill="#481668"/>
<rect x="895.64" y="263.40" width="7.02" height="7.01" fill="#46085c"/>
<rect x="902.36" y="263.40" width="7.02" height="7.01" fill="#450457"/>
<rect x="909.07" y="263.40" width="7.02" height="7.01" fill="#440256"/>
<rect x="915.79" y="263.40" width="7.02" height="7.01" fill="#48186a"/>
<rect x="922.51" y="263.40" width="7.02" height="7.01" fill="#46085c"/>
<rect x="929.22" y="263.40" width="7.02" height="7.01" fill="#46085c"/>
<rect x="935.94" y="263.40" width="7.02" height="7.01" fill="#481b6d"/>
<rect x="942.65" y="263.40" width="7.02" height="7.01" fill="#481668"/>
<rect x="949.37" y="263.40" width="7.02" height="7.01" fill="#481668"/>
<rect x="956.08" y="263.40" width="7.02" height="7.01" fill="#481668"/>
<rect x="835.20" y="270.11" width="7.02" height="7.01" fill="#440154"/>
<rect x="841.92" y="270.11" width="7.02" height="7.01" fill="#481769"/>
<rect x="848.63" y="270.11" width="7.02" height="7.01" fill="#481b6d"/>
<rect x="855.35" y="270.11" width="7.02" height="7.01" fill="#481b6d"/>
<rect x="862.06" y="270.11" width="7.02" height="7.01" fill="#440256"/>
<rect x="868.78" y="270.11" width="7.02" height="7.01" fill="#471164"/>
<rect x="875.49" y="270.11" width="7.02" height="7.01" fill="#481a6c"/>
<rect x="882.21" y="270.11" width="7.02" height="7.01" fill="#481769"/>
<rect x="888.93" y="270.11" width="7.02" height="7.01" fill="#460b5e"/>
<rect x="895.64" y="270.11" width="7.02" height="7.01" fill="#460a5d"/>
<rect x="902.36" y="270.11" width="7.02" height="7.01" fill="#460b5e"/>
<rect x="909.07" y="270.11" width="7.02" height="7.01" fill="#471063"/>
<rect x="915.79" y="270.11" width="7.02" height="7.01" fill="#460b5e"/>
<rect x="922.51" y="270.11" width="7.02" height="7.01" fill="#471365"/>
<rect x="929.22" y="270.11" width="7.02" height="7.01" fill="#471365"/>
<rect x="935.94" y="270.11" width="7.02" height="7.01" fill="#481467"/>
<rect x="942.65" y="270.11" width="7.02" height="7.01" fill="#470d60"/>
<rect x="949.37" y="270.11" width="7.02" height="7.01" fill="#481b6d"/>
<rect x="956.08" y="270.11" width="7.02" height="7.01" fill="#471063"/>
<rect x="835.20" y="276.82" width="7.02" height="7.01" fill="#471063"/>
<rect x="841.92" y="276.82" width="7.02" height="7.01" fill="#481c6e"/>
<rect x="848.63" y="276.82" width="7.02" height="7.01" fill="#48186a"/>
<rect x="855.35" y="276.82" width="7.02" height="7.01" fill="#471164"/>
<rect x="862.06" y="276.82" width="7.02" height="7.01" fill="#471063"/>
<rect x="868.78" y="276.82" width="7.02" height="7.01" fill="#481c6e"/>
<rect x="875.49" y="276.82" width="7.02" height="7.01" fill="#460b5e"/>
<rect x="882.21" y="276.82" width="7.02" height="7.01" fill="#450559"/>
<rect x="888.93" y="276.82" width="7.02" height="7.01" fill="#460a5d"/>
<rect x="895.64" y="276.82" width="7.02" height="7.01" fill="#440256"/>
<rect x="902.36" y="276.82" width="7.02" height="7.01" fill="#48186a"/>
<rect x="909.07" y="276.82" width="7.02" height="7.01" fill="#481b6d"/>
<rect x="915.79" y="276.82" width="7.02" height="7.01" fill="#440256"/>
<rect x="922.51" y="276.82" width="7.02" height="7.01" fill="#440256"/>
<rect x="929.22" y="276.82" width="7.02" height="7.01" fill="#470e61"/>
<rect x="935.94" y="276.82" width="7.02" height="7.01" fill="#481668"/>
<rect x="942.65" y="276.82" width="7.02" height="7.01" fill="#471063"/>
<rect x="949.37" y="276.82" width="7.02" height="7.01" fill="#450457"/>
<rect x="956.08" y="276.82" width="7.02" height="7.01" fill="#481a6c"/>
<rect x="835.20" y="283.53" width="7.02" height="7.01" fill="#460b5e"/>
<rect x="841.92" y="283.53" width="7.02" height="7.01" fill="#440154"/>
<rect x="848.63" y="283.53" width="7.02" height="7.01" fill="#470d60"/>
<rect x="855.35" y="283.53" width="7.02" height="7.01" fill="#470d60"/>
<rect x="862.06" y="283.53" width="7.02" height="7.01" fill="#440256"/>
<rect x="868.78" y="283.53" width="7.02" height="7.01" fill="#460b5e"/>
<rect x="875.49" y="283.53" width="7.02" height="7.01" fill="#46075a"/>
<rect x="882.21" y="283.53" width="7.02" height="7.01" fill="#460a5d"/>
<rect x="888.93" y="283.53" width="7.02" height="7.01" fill="#460b5e"/>
<rect x="895.64" y="283.53" width="7.02" height="7.01" fill="#450559"/>
<rect x="902.36" y="283.53" width="7.02" height="7.01" fill="#460b5e"/>
<rect x="909.07" y="283.53" width="7.02" height="7.01" fill="#481668"/>
<rect x="915.79" y="283.53" width="7.02" height="7.01" fill="#46075a"/>
<rect x="922.51" y="283.53" width="7.02" height="7.01" fill="#471063"/>
<rect x="929.22" y="283.53" width="7.02" height="7.01" fill="#440256"/>
<rect x="935.94" y="283.53" width="7.02" height="7.01" fill="#470e61"/>
<rect x="942.65" y="283.53" width="7.02" height="7.01" fill="#471365"/>
<rect x="949.37" y="283.53" width="7.02" height="7.01" fill="#460a5d"/>
<rect x="956.08" y="283.53" width="7.02" height="7.01" fill="#440154"/>
<rect x="835.20" y="290.24" width="7.02" height="7.01" fill="#46085c"/>
<rect x="841.92" y="290.24" width="7.02" height="7.01" fill="#471063"/>
<rect x="848.63" y="290.24" width="7.02" height="7.01" fill="#471365"/>
<rect x="855.35" y="290.24" width="7.02" height="7.01" fill="#450457"/>
<rect x="862.06" y="290.24" width="7.02" height="7.01" fill="#46075a"/>
<rect x="868.78" y="290.24" width="7.02" height="7.01" fill="#440256"/>
<rect x="875.49" y="290.24" width="7.02" height="7.01" fill="#481668"/>
<rect x="882.21" y="290.24" width="7.02" height="7.01" fill="#355f8d"/>
<rect x="888.93" y="290.24" width="7.02" height="7.01" fill="#2a788e"/>
<rect x="895.64" y="290.24" width="7.02" height="7.01" fill="#21918c"/>
<rect x="902.36" y="290.24" width="7.02" height="7.01" fill="#2a788e"/>
<rect x="909.07" y="290.24" width="7.02" height="7.01" fill="#3e4989"/>
<rect x="915.79" y="290.24" width="7.02" height="7.01" fill="#440256"/>
<rect x="922.51" y="290.24" width="7.02" height="7.01" fill="#471063"/>
<rect x="929.22" y="290.24" width="7.02" height="7.01" fill="#481668"/>
<rect x="935.94" y="290.24" width="7.02" height="7.01" fill="#471063"/>
<rect x="942.65" y="290.24" width="7.02" height="7.01" fill="#450457"/>
<rect x="949.37" y="290.24" width="7.02" height="7.01" fill="#481467"/>
<rect x="956.08" y="290.24" width="7.02" height="7.01" fill="#471365"/>
<rect x="835.20" y="296.95" width="7.02" height="7.01" fill="#46075a"/>
<rect x="841.92" y="296.95" width="7.02" height="7.01" fill="#450457"/>
<rect x="848.63" y="296.95" width="7.02" height="7.01" fill="#48186a"/>
<rect x="855.35" y="296.95" width="7.02" height="7.01" fill="#440154"/>
<rect x="862.06" y="296.95" width="7.02" height="7.01" fill="#481668"/>
<rect x="868.78" y="296.95" width="7.02" height="7.01" fill="#450559"/>
<rect x="875.49" y="296.95" width="7.02" height="7.01" fill="#443a83"/>
<rect x="882.21" y="296.95" width="7.02" height="7.01" fill="#2fb47c"/>
<rect x="888.93" y="296.95" width="7.02" height="7.01" fill="#95d840"/>
<rect x="895.64" y="296.95" width="7.02" height="7.01" fill="#fde725"/>
<rect x="902.36" y="296.95" width="7.02" height="7.01" fill="#5ec962"/>
<rect x="909.07" y="296.95" width="7.02" height="7.01" fill="#2a788e"/>
<rect x="915.79" y="296.95" width="7.02" height="7.01" fill="#481769"/>
<rect x="922.51" y="296.95" width="7.02" height="7.01" fill="#470d60"/>
<rect x="929.22" y="296.95" width="7.02" height="7.01" fill="#481b6d"/>
<rect x="935.94" y="296.95" width="7.02" height="7.01" fill="#481769"/>
<rect x="942.65" y="296.95" width="7.02" height="7.01" fill="#48186a"/>
<rect x="949.37" y="296.95" width="7.02" height="7.01" fill="#450559"/>
<rect x="956.08" y="296.95" width="7.02" height="7.01" fill="#481a6c"/>
<rect x="835.20" y="303.66" width="7.02" height="7.01" fill="#470d60"/>
<rect x="841.92" y="303.66" width="7.02" height="7.01" fill="#450457"/>
<rect x="848.63" y="303.66" width="7.02" height="7.01" fill="#481668"/>
<rect x="855.35" y="303.66" width="7.02" height="7.01" fill="#470e61"/>
<rect x="862.06" y="303.66" width="7.02" height="7.01" fill="#481668"/>
<rect x="868.78" y="303.66" width="7.02" height="7.01" fill="#48186a"/>
<rect x="875.49" y="303.66" width="7.02" height="7.01" fill="#470e61"/>
<rect x="882.21" y="303.66" width="7.02" height="7.01" fill="#25848e"/>
<rect x="888.93" y="303.66" width="7.02" height="7.01" fill="#6ece58"/>
<rect x="895.64" y="303.66" width="7.02" height="7.01" fill="#b0dd2f"/>
<rect x="902.36" y="303.66" width="7.02" height="7.01" fill="#2fb47c"/>
<rect x="909.07" y="303.66" width="7.02" height="7.01" fill="#355f8d"/>
<rect x="915.79" y="303.66" width="7.02" height="7.01" fill="#481769"/>
<rect x="922.51" y="303.66" width="7.02" height="7.01" fill="#481769"/>
<rect x="929.22" y="303.66" width="7.02" height="7.01" fill="#471365"/>
<rect x="935.94" y="303.66" width="7.02" height="7.01" fill="#460b5e"/>
<rect x="942.65" y="303.66" width="7.02" height="7.01" fill="#440154"/>
<rect x="949.37" y="303.66" width="7.02" height="7.01" fill="#460b5e"/>
<rect x="956.08" y="303.66" width="7.02" height="7.01" fill="#450559"/>
<rect x="835.20" y="310.37" width="7.02" height="7.01" fill="#440256"/>
<rect x="841.92" y="310.37" width="7.02" height="7.01" fill="#471365"/>
<rect x="848.63" y="310.37" width="7.02" height="7.01" fill="#450559"/>
<rect x="855.35" y="310.37" width="7.02" height="7.01" fill="#470d60"/>
<rect x="862.06" y="310.37" width="7.02" height="7.01" fill="#450559"/>
<rect x="868.78" y="310.37" width="7.02" height="7.01" fill="#470d60"/>
<rect x="875.49" y="310.37" width="7.02" height="7.01" fill="#481a6c"/>
<rect x="882.21" y="310.37" width="7.02" height="7.01" fill="#2a788e"/>
<rect x="888.93" y="310.37" width="7.02" height="7.01" fill="#44bf70"/>
<rect x="895.64" y="310.37" width="7.02" height="7.01" fill="#d2e21b"/>
<rect x="902.36" y="310.37" width="7.02" height="7.01" fill="#21918c"/>
<rect x="909.07" y="310.37" width="7.02" height="7.01" fill="#3e4989"/>
<rect x="915.79" y="310.37" width="7.02" height="7.01" fill="#471365"/>
<rect x="922.51" y="310.37" width="7.02" height="7.01" fill="#471063"/>
<rect x="929.22" y="310.37" width="7.02" height="7.01" fill="#470d60"/>
<rect x="935.94" y="310.37" width="7.02" height="7.01" fill="#470e61"/>
<rect x="942.65" y="310.37" width="7.02" height="7.01" fill="#440256"/>
<rect x="949.37" y="310.37" width="7.02" height="7.01" fill="#481467"/>
<rect x="956.08" y="310.37" width="7.02" height="7.01" fill="#481467"/>
<rect x="835.20" y="317.08" width="7.02" height="7.01" fill="#440154"/>
<rect x="841.92" y="317.08" width="7.02" height="7.01" fill="#481769"/>
<rect x="848.63" y="317.08" width="7.02" height="7.01" fill="#460b5e"/>
<rect x="855.35" y="317.08" width="7.02" height="7.01" fill="#471063"/>
<rect x="862.06" y="317.08" width="7.02" height="7.01" fill="#481467"/>
<rect x="868.78" y="317.08" width="7.02" height="7.01" fill="#481a6c"/>
<rect x="875.49" y="317.08" width="7.02" height="7.01" fill="#450457"/>
<rect x="882.21" y="317.08" width="7.02" height="7.01" fill="#355f8d"/>
<rect x="888.93" y="317.08" width="7.02" height="7.01" fill="#2fb47c"/>
<rect x="895.64" y="317.08" width="7.02" height="7.01" fill="#dfe318"/>
<rect x="902.36" y="317.08" width="7.02" height="7.01" fill="#21918c"/>
<rect x="909.07" y="317.08" width="7.02" height="7.01" fill="#472d7b"/>
<rect x="915.79" y="317.08" width="7.02" height="7.01" fill="#450457"/>
<rect x="922.51" y="317.08" width="7.02" height="7.01" fill="#46085c"/>
<rect x="929.22" y="317.08" width="7.02" height="7.01" fill="#46085c"/>
<rect x="935.94" y="317.08" width="7.02" height="7.01" fill="#450559"/>
<rect x="942.65" y="317.08" width="7.02" height="7.01" fill="#440256"/>
<rect x="949.37" y="317.08" width="7.02" height="7.01" fill="#440154"/>
<rect x="956.08" y="317.08" width="7.02" height="7.01" fill="#48186a"/>
<rect x="835.20" y="323.79" width="7.02" height="7.01" fill="#48186a"/>
<rect x="841.92" y="323.79" width="7.02" height="7.01" fill="#470d60"/>
<rect x="848.63" y="323.79" width="7.02" height="7.01" fill="#481b6d"/>
<rect x="855.35" y="323.79" width="7.02" height="7.01" fill="#471365"/>
<rect x="862.06" y="323.79" width="7.02" height="7.01" fill="#450457"/>
<rect x="868.78" y="323.79" width="7.02" height="7.01" fill="#450457"/>
<rect x="875.49" y="323.79" width="7.02" height="7.01" fill="#440256"/>
<rect x="882.21" y="323.79" width="7.02" height="7.01" fill="#3e4989"/>
<rect x="888.93" y="323.79" width="7.02" height="7.01" fill="#22a884"/>
<rect x="895.64" y="323.79" width="7.02" height="7.01" fill="#dfe318"/>
<rect x="902.36" y="323.79" width="7.02" height="7.01" fill="#228b8d"/>
<rect x="909.07" y="323.79" width="7.02" height="7.01" fill="#481a6c"/>
<rect x="915.79" y="323.79" width="7.02" height="7.01" fill="#471365"/>
<rect x="922.51" y="323.79" width="7.02" height="7.01" fill="#450559"/>
<rect x="929.22" y="323.79" width="7.02" height="7.01" fill="#481769"/>
<rect x="935.94" y="323.79" width="7.02" height="7.01" fill="#440154"/>
<rect x="942.65" y="323.79" width="7.02" height="7.01" fill="#450559"/>
<rect x="949.37" y="323.79" width="7.02" height="7.01" fill="#440256"/>
<rect x="956.08" y="323.79" width="7.02" height="7.01" fill="#450559"/>
<rect x="835.20" y="330.51" width="7.02" height="7.01" fill="#46075a"/>
<rect x="841.92" y="330.51" width="7.02" height="7.01" fill="#481769"/>
<rect x="848.63" y="330.51" width="7.02" height="7.01" fill="#460b5e"/>
<rect x="855.35" y="330.51" width="7.02" height="7.01" fill="#481467"/>
<rect x="862.06" y="330.51" width="7.02" height="7.01" fill="#481668"/>
<rect x="868.78" y="330.51" width="7.02" height="7.01" fill="#481769"/>
<rect x="875.49" y="330.51" width="7.02" height="7.01" fill="#481b6d"/>
<rect x="882.21" y="330.51" width="7.02" height="7.01" fill="#472d7b"/>
<rect x="888.93" y="330.51" width="7.02" height="7.01" fill="#1e9c89"/>
<rect x="895.64" y="330.51" width="7.02" height="7.01" fill="#dfe318"/>
<rect x="902.36" y="330.51" width="7.02" height="7.01" fill="#2a788e"/>
<rect x="909.07" y="330.51" width="7.02" height="7.01" fill="#440256"/>
<rect x="915.79" y="330.51" width="7.02" height="7.01" fill="#46085c"/>
<rect x="922.51" y="330.51" width="7.02" height="7.01" fill="#470e61"/>
<rect x="929.22" y="330.51" width="7.02" height="7.01" fill="#471063"/>
<rect x="935.94" y="330.51" width="7.02" height="7.01" fill="#471063"/>
<rect x="942.65" y="330.51" width="7.02" height="7.01" fill="#481a6c"/>
<rect x="949.37" y="330.51" width="7.02" height="7.01" fill="#481b6d"/>
<rect x="956.08" y="330.51" width="7.02" height="7.01" fill="#440154"/>
<rect x="835.20" y="337.22" width="7.02" height="7.01" fill="#481467"/>
<rect x="841.92" y="337.22" width="7.02" height="7.01" fill="#440256"/>
<rect x="848.63" y="337.22" width="7.02" height="7.01" fill="#481467"/>
<rect x="855.35" y="337.22" width="7.02" height="7.01" fill="#481a6c"/>
<rect x="862.06" y="337.22" width="7.02" height="7.01" fill="#450559"/>
<rect x="868.78" y="337.22" width="7.02" height="7.01" fill="#470d60"/>
<rect x="875.49" y="337.22" width="7.02" height="7.01" fill="#460b5e"/>
<rect x="882.21" y="337.22" width="7.02" height="7.01" fill="#481b6d"/>
<rect x="888.93" y="337.22" width="7.02" height="7.01" fill="#1f978b"/>
<rect x="895.64" y="337.22" width="7.02" height="7.01" fill="#b0dd2f"/>
<rect x="902.36" y="337.22" width="7.02" height="7.01" fill="#355f8d"/>
<rect x="909.07" y="337.22" width="7.02" height="7.01" fill="#460b5e"/>
<rect x="915.79" y="337.22" width="7.02" height="7.01" fill="#470e61"/>
<rect x="922.51" y="337.22" width="7.02" height="7.01" fill="#481c6e"/>
<rect x="929.22" y="337.22" width="7.02" height="7.01" fill="#46085c"/>
<rect x="935.94" y="337.22" width="7.02" height="7.01" fill="#440154"/>
<rect x="942.65" y="337.22" width="7.02" height="7.01" fill="#481c6e"/>
<rect x="949.37" y="337.22" width="7.02" height="7.01" fill="#48186a"/>
<rect x="956.08" y="337.22" width="7.02" height="7.01" fill="#48186a"/>
<rect x="835.20" y="343.93" width="7.02" height="7.01" fill="#481a6c"/>
<rect x="841.92" y="343.93" width="7.02" height="7.01" fill="#471164"/>
<rect x="848.63" y="343.93" width="7.02" height="7.01" fill="#471063"/>
<rect x="855.35" y="343.93" width="7.02" height="7.01" fill="#481b6d"/>
<rect x="862.06" y="343.93" width="7.02" height="7.01" fill="#481668"/>
<rect x="868.78" y="343.93" width="7.02" height="7.01" fill="#460a5d"/>
<rect x="875.49" y="343.93" width="7.02" height="7.01" fill="#450457"/>
<rect x="882.21" y="343.93" width="7.02" height="7.01" fill="#471365"/>
<rect x="888.93" y="343.93" width="7.02" height="7.01" fill="#287d8e"/>
<rect x="895.64" y="343.93" width="7.02" height="7.01" fill="#7ad151"/>
<rect x="902.36" y="343.93" width="7.02" height="7.01" fill="#3b528b"/>
<rect x="909.07" y="343.93" width="7.02" height="7.01" fill="#460b5e"/>
<rect x="915.79" y="343.93" width="7.02" height="7.01" fill="#450559"/>
<rect x="922.51" y="343.93" width="7.02" height="7.01" fill="#481a6c"/>
<rect x="929.22" y="343.93" width="7.02" height="7.01" fill="#481668"/>
<rect x="935.94" y="343.93" width="7.02" height="7.01" fill="#470e61"/>
<rect x="942.65" y="343.93" width="7.02" height="7.01" fill="#481467"/>
<rect x="949.37" y="343.93" width="7.02" height="7.01" fill="#48186a"/>
<rect x="956.08" y="343.93" width="7.02" height="7.01" fill="#460b5e"/>
<rect x="835.20" y="350.64" width="7.02" height="7.01" fill="#450559"/>
<rect x="841.92" y="350.64" width="7.02" height="7.01" fill="#48186a"/>
<rect x="848.63" y="350.64" width="7.02" height="7.01" fill="#48186a"/>
<rect x="855.35" y="350.64" width="7.02" height="7.01" fill="#470d60"/>
<rect x="862.06" y="350.64" width="7.02" height="7.01" fill="#471164"/>
<rect x="868.78" y="350.64" width="7.02" height="7.01" fill="#470e61"/>
<rect x="875.49" y="350.64" width="7.02" height="7.01" fill="#48186a"/>
<rect x="882.21" y="350.64" width="7.02" height="7.01" fill="#471365"/>
<rect x="888.93" y="350.64" width="7.02" height="7.01" fill="#2a788e"/>
<rect x="895.64" y="350.64" width="7.02" height="7.01" fill="#5ec962"/>
<rect x="902.36" y="350.64" width="7.02" height="7.01" fill="#472d7b"/>
<rect x="909.07" y="350.64" width="7.02" height="7.01" fill="#471063"/>
<rect x="915.79" y="350.64" width="7.02" height="7.01" fill="#471164"/>
<rect x="922.51" y="350.64" width="7.02" height="7.01" fill="#481467"/>
<rect x="929.22" y="350.64" width="7.02" height="7.01" fill="#450559"/>
<rect x="935.94" y="350.64" width="7.02" height="7.01" fill="#46075a"/>
<rect x="942.65" y="350.64" width="7.02" height="7.01" fill="#470e61"/>
<rect x="949.37" y="350.64" width="7.02" height="7.01" fill="#46075a"/>
<rect x="956.08" y="350.64" width="7.02" height="7.01" fill="#450457"/>
<rect x="835.20" y="357.35" width="7.02" height="7.01" fill="#450559"/>
<rect x="841.92" y="357.35" width="7.02" height="7.01" fill="#470e61"/>
<rect x="848.63" y="357.35" width="7.02" height="7.01" fill="#450559"/>
<rect x="855.35" y="357.35" width="7.02" height="7.01" fill="#440154"/>
<rect x="862.06" y="357.35" width="7.02" height="7.01" fill="#48186a"/>
<rect x="868.78" y="357.35" width="7.02" height="7.01" fill="#440154"/>
<rect x="875.49" y="357.35" width="7.02" height="7.01" fill="#471164"/>
<rect x="882.21" y="357.35" width="7.02" height="7.01" fill="#460a5d"/>
<rect x="888.93" y="357.35" width="7.02" height="7.01" fill="#355f8d"/>
<rect x="895.64" y="357.35" width="7.02" height="7.01" fill="#1e9c89"/>
<rect x="902.36" y="357.35" width="7.02" height="7.01" fill="#471365"/>
<rect x="909.07" y="357.35" width="7.02" height="7.01" fill="#460a5d"/>
<rect x="915.79" y="357.35" width="7.02" height="7.01" fill="#450457"/>
<rect x="922.51" y="357.35" width="7.02" height="7.01" fill="#481668"/>
<rect x="929.22" y="357.35" width="7.02" height="7.01" fill="#48186a"/>
<rect x="935.94" y="357.35" width="7.02" height="7.01" fill="#460a5d"/>
<rect x="942.65" y="357.35" width="7.02" height="7.01" fill="#460b5e"/>
<rect x="949.37" y="357.35" width="7.02" height="7.01" fill="#481b6d"/>
<rect x="956.08" y="357.35" width="7.02" height="7.01" fill="#46075a"/>
<rect x="835.20" y="364.06" width="7.02" height="7.01" fill="#440256"/>
<rect x="841.92" y="364.06" width="7.02" height="7.01" fill="#460b5e"/>
<rect x="848.63" y="364.06" width="7.02" height="7.01" fill="#440154"/>
<rect x="855.35" y="364.06" width="7.02" height="7.01" fill="#471164"/>
<rect x="862.06" y="364.06" width="7.02" height="7.01" fill="#471063"/>
<rect x="868.78" y="364.06" width="7.02" height="7.01" fill="#440256"/>
<rect x="875.49" y="364.06" width="7.02" height="7.01" fill="#481b6d"/>
<rect x="882.21" y="364.06" width="7.02" height="7.01" fill="#471365"/>
<rect x="888.93" y="364.06" width="7.02" height="7.01" fill="#471365"/>
<rect x="895.64" y="364.06" width="7.02" height="7.01" fill="#460b5e"/>
<rect x="902.36" y="364.06" width="7.02" height="7.01" fill="#470d60"/>
<rect x="909.07" y="364.06" width="7.02" height="7.01" fill="#460a5d"/>
<rect x="915.79" y="364.06" width="7.02" height="7.01" fill="#46085c"/>
<rect x="922.51" y="364.06" width="7.02" height="7.01" fill="#481769"/>
<rect x="929.22" y="364.06" width="7.02" height="7.01" fill="#470e61"/>
<rect x="935.94" y="364.06" width="7.02" height="7.01" fill="#471365"/>
<rect x="942.65" y="364.06" width="7.02" height="7.01" fill="#440256"/>
<rect x="949.37" y="364.06" width="7.02" height="7.01" fill="#481a6c"/>
<rect x="956.08" y="364.06" width="7.02" height="7.01" fill="#460b5e"/>
<rect x="835.20" y="370.77" width="7.02" height="7.01" fill="#481467"/>
<rect x="841.92" y="370.77" width="7.02" height="7.01" fill="#481668"/>
<rect x="848.63" y="370.77" width="7.02" height="7.01" fill="#460a5d"/>
<rect x="855.35" y="370.77" width="7.02" height="7.01" fill="#460b5e"/>
<rect x="862.06" y="370.77" width="7.02" height="7.01" fill="#470d60"/>
<rect x="868.78" y="370.77" width="7.02" height="7.01" fill="#450457"/>
<rect x="875.49" y="370.77" width="7.02" height="7.01" fill="#48186a"/>
<rect x="882.21" y="370.77" width="7.02" height="7.01" fill="#471365"/>
<rect x="888.93" y="370.77" width="7.02" height="7.01" fill="#450559"/>
<rect x="895.64" y="370.77" width="7.02" height="7.01" fill="#471365"/>
<rect x="902.36" y="370.77" width="7.02" height="7.01" fill="#450457"/>
<rect x="909.07" y="370.77" width="7.02" height="7.01" fill="#481668"/>
<rect x="915.79" y="370.77" width="7.02" height="7.01" fill="#481668"/>
<rect x="922.51" y="370.77" width="7.02" height="7.01" fill="#481769"/>
<rect x="929.22" y="370.77" width="7.02" height="7.01" fill="#471164"/>
<rect x="935.94" y="370.77" width="7.02" height="7.01" fill="#481467"/>
<rect x="942.65" y="370.77" width="7.02" height="7.01" fill="#48186a"/>
<rect x="949.37" y="370.77" width="7.02" height="7.01" fill="#481467"/>
<rect x="956.08" y="370.77" width="7.02" height="7.01" fill="#481769"/>
<rect x="835.20" y="377.48" width="7.02" height="7.01" fill="#470d60"/>
<rect x="841.92" y="377.48" width="7.02" height="7.01" fill="#440256"/>
<rect x="848.63" y="377.48" width="7.02" height="7.01" fill="#470d60"/>
<rect x="855.35" y="377.48" width="7.02" height="7.01" fill="#471365"/>
<rect x="862.06" y="377.48" width="7.02" height="7.01" fill="#481b6d"/>
<rect x="868.78" y="377.48" width="7.02" height="7.01" fill="#481c6e"/>
<rect x="875.49" y="377.48" width="7.02" height="7.01" fill="#460b5e"/>
<rect x="882.21" y="377.48" width="7.02" height="7.01" fill="#440154"/>
<rect x="888.93" y="377.48" width="7.02" height="7.01" fill="#48186a"/>
<rect x="895.64" y="377.48" width="7.02" height="7.01" fill="#481b6d"/>
<rect x="902.36" y="377.48" width="7.02" height="7.01" fill="#471063"/>
<rect x="909.07" y="377.48" width="7.02" height="7.01" fill="#471164"/>
<rect x="915.79" y="377.48" width="7.02" height="7.01" fill="#481b6d"/>
<rect x="922.51" y="377.48" width="7.02" height="7.01" fill="#460b5e"/>
<rect x="929.22" y="377.48" width="7.02" height="7.01" fill="#440154"/>
<rect x="935.94" y="377.48" width="7.02" height="7.01" fill="#481668"/>
<rect x="942.65" y="377.48" width="7.02" height="7.01" fill="#440256"/>
<rect x="949.37" y="377.48" width="7.02" height="7.01" fill="#481769"/>
<rect x="956.08" y="377.48" width="7.02" height="7.01" fill="#481769"/>
<rect x="835.20" y="384.19" width="7.02" height="7.01" fill="#481b6d"/>
<rect x="841.92" y="384.19" width="7.02" height="7.01" fill="#460b5e"/>
<rect x="848.63" y="384.19" width="7.02" height="7.01" fill="#460b5e"/>
<rect x="855.35" y="384.19" width="7.02" height="7.01" fill="#46085c"/>
<rect x="862.06" y="384.19" width="7.02" height="7.01" fill="#470d60"/>
<rect x="868.78" y="384.19" width="7.02" height="7.01" fill="#440154"/>
<rect x="875.49" y="384.19" width="7.02" height="7.01" fill="#481467"/>
<rect x="882.21" y="384.19" width="7.02" height="7.01" fill="#481a6c"/>
<rect x="888.93" y="384.19" width="7.02" height="7.01" fill="#460a5d"/>
<rect x="895.64" y="384.19" width="7.02" height="7.01" fill="#46075a"/>
<rect x="902.36" y="384.19" width="7.02" height="7.01" fill="#470e61"/>
<rect x="909.07" y="384.19" width="7.02" height="7.01" fill="#460b5e"/>
<rect x="915.79" y="384.19" width="7.02" height="7.01" fill="#460b5e"/>
<rect x="922.51" y="384.19" width="7.02" height="7.01" fill="#460a5d"/>
<rect x="929.22" y="384.19" width="7.02" height="7.01" fill="#481b6d"/>
<rect x="935.94" y="384.19" width="7.02" height="7.01" fill="#471365"/>
<rect x="942.65" y="384.19" width="7.02" height="7.01" fill="#481467"/>
<rect x="949.37" y="384.19" width="7.02" height="7.01" fill="#460b5e"/>
<rect x="956.08" y="384.19" width="7.02" height="7.01" fill="#460b5e"/>
</g>
<rect x="835.20" y="263.40" width="127.60" height="127.50" fill="none" stroke="#111" stroke-width="0.9"/>
<line x1="831.28" y1="266.76" x2="835.20" y2="266.76" stroke="#222" stroke-width="1.1"/>
<text x="826.19" y="270.38" class="tk" text-anchor="end" style="font-size:11.55px">0</text>
<line x1="831.28" y1="300.31" x2="835.20" y2="300.31" stroke="#222" stroke-width="1.1"/>
<text x="826.19" y="303.93" class="tk" text-anchor="end" style="font-size:11.55px">5</text>
<line x1="831.28" y1="333.86" x2="835.20" y2="333.86" stroke="#222" stroke-width="1.1"/>
<text x="826.19" y="337.48" class="tk" text-anchor="end" textLength="10.77" lengthAdjust="spacingAndGlyphs" style="font-size:11.55px">10</text>
<line x1="831.28" y1="367.41" x2="835.20" y2="367.41" stroke="#222" stroke-width="1.1"/>
<text x="826.19" y="371.04" class="tk" text-anchor="end" textLength="10.77" lengthAdjust="spacingAndGlyphs" style="font-size:11.55px">15</text>
<line x1="838.56" y1="390.90" x2="838.56" y2="394.82" stroke="#222" stroke-width="1.1"/>
<text x="838.56" y="407.35" class="tk" text-anchor="middle" style="font-size:11.55px">0</text>
<line x1="905.72" y1="390.90" x2="905.72" y2="394.82" stroke="#222" stroke-width="1.1"/>
<text x="905.72" y="407.35" class="tk" text-anchor="middle" textLength="10.77" lengthAdjust="spacingAndGlyphs" style="font-size:11.55px">10</text>
<text x="876.80" y="256.60" class="tt" textLength="45.30" lengthAdjust="spacingAndGlyphs" style="font-size:15.27px">MIP xy</text>
<g shape-rendering="crispEdges">
<rect x="326.20" y="456.10" width="125.90" height="125.30" fill="#440154"/>
<rect x="399.09" y="482.48" width="6.93" height="6.89" fill="#471365"/>
<rect x="359.33" y="489.07" width="6.93" height="6.89" fill="#481a6c"/>
<rect x="365.96" y="489.07" width="6.93" height="6.89" fill="#472d7b"/>
<rect x="399.09" y="489.07" width="6.93" height="6.89" fill="#375a8c"/>
<rect x="405.72" y="489.07" width="6.93" height="6.89" fill="#375a8c"/>
<rect x="359.33" y="495.67" width="6.93" height="6.89" fill="#472d7b"/>
<rect x="365.96" y="495.67" width="6.93" height="6.89" fill="#3b528b"/>
<rect x="399.09" y="495.67" width="6.93" height="6.89" fill="#3e4989"/>
<rect x="405.72" y="495.67" width="6.93" height="6.89" fill="#25848e"/>
<rect x="412.34" y="495.67" width="6.93" height="6.89" fill="#482173"/>
<rect x="359.33" y="502.26" width="6.93" height="6.89" fill="#482173"/>
<rect x="365.96" y="502.26" width="6.93" height="6.89" fill="#472d7b"/>
<rect x="399.09" y="502.26" width="6.93" height="6.89" fill="#482173"/>
<rect x="405.72" y="502.26" width="6.93" height="6.89" fill="#3e4989"/>
<rect x="412.34" y="502.26" width="6.93" height="6.89" fill="#481a6c"/>
<rect x="392.46" y="508.86" width="6.93" height="6.89" fill="#471063"/>
<rect x="352.71" y="515.45" width="6.93" height="6.89" fill="#470d60"/>
<rect x="372.58" y="515.45" width="6.93" height="6.89" fill="#460a5d"/>
<rect x="392.46" y="515.45" width="6.93" height="6.89" fill="#481a6c"/>
<rect x="412.34" y="515.45" width="6.93" height="6.89" fill="#471063"/>
<rect x="392.46" y="522.05" width="6.93" height="6.89" fill="#471365"/>
<rect x="359.33" y="528.64" width="6.93" height="6.89" fill="#481a6c"/>
<rect x="365.96" y="528.64" width="6.93" height="6.89" fill="#414487"/>
<rect x="399.09" y="528.64" width="6.93" height="6.89" fill="#443a83"/>
<rect x="405.72" y="528.64" width="6.93" height="6.89" fill="#2f6c8e"/>
<rect x="412.34" y="528.64" width="6.93" height="6.89" fill="#482173"/>
<rect x="432.22" y="528.64" width="6.93" height="6.89" fill="#471365"/>
<rect x="332.83" y="535.24" width="6.93" height="6.89" fill="#460a5d"/>
<rect x="359.33" y="535.24" width="6.93" height="6.89" fill="#3e4989"/>
<rect x="365.96" y="535.24" width="6.93" height="6.89" fill="#2f6c8e"/>
<rect x="399.09" y="535.24" width="6.93" height="6.89" fill="#228b8d"/>
<rect x="405.72" y="535.24" width="6.93" height="6.89" fill="#fde725"/>
<rect x="412.34" y="535.24" width="6.93" height="6.89" fill="#471365"/>
<rect x="425.59" y="535.24" width="6.93" height="6.89" fill="#471365"/>
<rect x="359.33" y="541.83" width="6.93" height="6.89" fill="#472d7b"/>
<rect x="365.96" y="541.83" width="6.93" height="6.89" fill="#3e4989"/>
<rect x="399.09" y="541.83" width="6.93" height="6.89" fill="#355f8d"/>
<rect x="405.72" y="541.83" width="6.93" height="6.89" fill="#1f958b"/>
<rect x="425.59" y="541.83" width="6.93" height="6.89" fill="#470d60"/>
<rect x="418.97" y="548.43" width="6.93" height="6.89" fill="#470d60"/>
<rect x="392.46" y="555.02" width="6.93" height="6.89" fill="#460a5d"/>
<rect x="412.34" y="555.02" width="6.93" height="6.89" fill="#471063"/>
</g>
<rect x="326.20" y="456.10" width="125.90" height="125.30" fill="none" stroke="#111" stroke-width="0.9"/>
<line x1="322.34" y1="459.40" x2="326.20" y2="459.40" stroke="#222" stroke-width="1.1"/>
<text x="317.31" y="462.97" class="tk" text-anchor="end" style="font-size:11.40px">0</text>
<line x1="322.34" y1="492.37" x2="326.20" y2="492.37" stroke="#222" stroke-width="1.1"/>
<text x="317.31" y="495.95" class="tk" text-anchor="end" style="font-size:11.40px">5</text>
<line x1="322.34" y1="525.34" x2="326.20" y2="525.34" stroke="#222" stroke-width="1.1"/>
<text x="317.31" y="528.92" class="tk" text-anchor="end" textLength="10.63" lengthAdjust="spacingAndGlyphs" style="font-size:11.40px">10</text>
<line x1="322.34" y1="558.32" x2="326.20" y2="558.32" stroke="#222" stroke-width="1.1"/>
<text x="317.31" y="561.89" class="tk" text-anchor="end" textLength="10.63" lengthAdjust="spacingAndGlyphs" style="font-size:11.40px">15</text>
<line x1="329.51" y1="581.40" x2="329.51" y2="585.26" stroke="#222" stroke-width="1.1"/>
<text x="329.51" y="597.63" class="tk" text-anchor="middle" style="font-size:11.40px">0</text>
<line x1="395.78" y1="581.40" x2="395.78" y2="585.26" stroke="#222" stroke-width="1.1"/>
<text x="395.78" y="597.63" class="tk" text-anchor="middle" textLength="10.63" lengthAdjust="spacingAndGlyphs" style="font-size:11.40px">10</text>
<text x="343.80" y="448.80" class="tt" textLength="89.30" lengthAdjust="spacingAndGlyphs" style="font-size:13.14px">Slice at y=7 xz</text>
<g shape-rendering="crispEdges">
<rect x="579.10" y="454.10" width="128.40" height="127.30" fill="#440154"/>
<rect x="646.68" y="454.10" width="7.06" height="7.00" fill="#460a5d"/>
<rect x="693.98" y="454.10" width="7.06" height="7.00" fill="#460a5d"/>
<rect x="606.13" y="460.80" width="7.06" height="7.00" fill="#460a5d"/>
<rect x="639.92" y="460.80" width="7.06" height="7.00" fill="#470d60"/>
<rect x="606.13" y="467.50" width="7.06" height="7.00" fill="#471365"/>
<rect x="660.19" y="467.50" width="7.06" height="7.00" fill="#470d60"/>
<rect x="592.62" y="474.20" width="7.06" height="7.00" fill="#481a6c"/>
<rect x="606.13" y="474.20" width="7.06" height="7.00" fill="#482173"/>
<rect x="612.89" y="474.20" width="7.06" height="7.00" fill="#482173"/>
<rect x="633.16" y="474.20" width="7.06" height="7.00" fill="#471365"/>
<rect x="633.16" y="480.90" width="7.06" height="7.00" fill="#470d60"/>
<rect x="660.19" y="480.90" width="7.06" height="7.00" fill="#471063"/>
<rect x="592.62" y="487.60" width="7.06" height="7.00" fill="#481a6c"/>
<rect x="612.89" y="487.60" width="7.06" height="7.00" fill="#472d7b"/>
<rect x="619.65" y="487.60" width="7.06" height="7.00" fill="#2f6c8e"/>
<rect x="626.41" y="487.60" width="7.06" height="7.00" fill="#481a6c"/>
<rect x="653.44" y="487.60" width="7.06" height="7.00" fill="#482173"/>
<rect x="660.19" y="487.60" width="7.06" height="7.00" fill="#481a6c"/>
<rect x="579.10" y="494.30" width="7.06" height="7.00" fill="#460a5d"/>
<rect x="612.89" y="494.30" width="7.06" height="7.00" fill="#355f8d"/>
<rect x="619.65" y="494.30" width="7.06" height="7.00" fill="#287d8e"/>
<rect x="626.41" y="494.30" width="7.06" height="7.00" fill="#443a83"/>
<rect x="646.68" y="494.30" width="7.06" height="7.00" fill="#460a5d"/>
<rect x="653.44" y="494.30" width="7.06" height="7.00" fill="#472d7b"/>
<rect x="660.19" y="494.30" width="7.06" height="7.00" fill="#414487"/>
<rect x="666.95" y="494.30" width="7.06" height="7.00" fill="#472d7b"/>
<rect x="585.86" y="501.00" width="7.06" height="7.00" fill="#481a6c"/>
<rect x="612.89" y="501.00" width="7.06" height="7.00" fill="#443a83"/>
<rect x="619.65" y="501.00" width="7.06" height="7.00" fill="#355f8d"/>
<rect x="660.19" y="501.00" width="7.06" height="7.00" fill="#482173"/>
<rect x="666.95" y="501.00" width="7.06" height="7.00" fill="#482173"/>
<rect x="599.37" y="507.70" width="7.06" height="7.00" fill="#481a6c"/>
<rect x="606.13" y="507.70" width="7.06" height="7.00" fill="#482173"/>
<rect x="633.16" y="507.70" width="7.06" height="7.00" fill="#460a5d"/>
<rect x="700.74" y="507.70" width="7.06" height="7.00" fill="#471365"/>
<rect x="680.47" y="514.40" width="7.06" height="7.00" fill="#481a6c"/>
<rect x="693.98" y="514.40" width="7.06" height="7.00" fill="#470d60"/>
<rect x="599.37" y="521.10" width="7.06" height="7.00" fill="#481a6c"/>
<rect x="633.16" y="521.10" width="7.06" height="7.00" fill="#481a6c"/>
<rect x="592.62" y="527.80" width="7.06" height="7.00" fill="#460a5d"/>
<rect x="619.65" y="527.80" width="7.06" height="7.00" fill="#2f6c8e"/>
<rect x="653.44" y="527.80" width="7.06" height="7.00" fill="#482173"/>
<rect x="660.19" y="527.80" width="7.06" height="7.00" fill="#472d7b"/>
<rect x="666.95" y="527.80" width="7.06" height="7.00" fill="#481a6c"/>
<rect x="612.89" y="534.50" width="7.06" height="7.00" fill="#1f958b"/>
<rect x="619.65" y="534.50" width="7.06" height="7.00" fill="#fde725"/>
<rect x="626.41" y="534.50" width="7.06" height="7.00" fill="#2f6c8e"/>
<rect x="653.44" y="534.50" width="7.06" height="7.00" fill="#443a83"/>
<rect x="660.19" y="534.50" width="7.06" height="7.00" fill="#375a8c"/>
<rect x="666.95" y="534.50" width="7.06" height="7.00" fill="#472d7b"/>
<rect x="612.89" y="541.20" width="7.06" height="7.00" fill="#287d8e"/>
<rect x="619.65" y="541.20" width="7.06" height="7.00" fill="#1fa188"/>
<rect x="626.41" y="541.20" width="7.06" height="7.00" fill="#3e4989"/>
<rect x="646.68" y="541.20" width="7.06" height="7.00" fill="#470d60"/>
<rect x="660.19" y="541.20" width="7.06" height="7.00" fill="#414487"/>
<rect x="599.37" y="547.90" width="7.06" height="7.00" fill="#471365"/>
<rect x="639.92" y="547.90" width="7.06" height="7.00" fill="#482173"/>
<rect x="646.68" y="547.90" width="7.06" height="7.00" fill="#470d60"/>
<rect x="606.13" y="554.60" width="7.06" height="7.00" fill="#471365"/>
<rect x="633.16" y="554.60" width="7.06" height="7.00" fill="#471365"/>
<rect x="606.13" y="561.30" width="7.06" height="7.00" fill="#471365"/>
<rect x="633.16" y="561.30" width="7.06" height="7.00" fill="#471365"/>
<rect x="666.95" y="561.30" width="7.06" height="7.00" fill="#471365"/>
<rect x="687.23" y="561.30" width="7.06" height="7.00" fill="#481a6c"/>
<rect x="585.86" y="568.00" width="7.06" height="7.00" fill="#471365"/>
<rect x="626.41" y="568.00" width="7.06" height="7.00" fill="#460a5d"/>
<rect x="687.23" y="568.00" width="7.06" height="7.00" fill="#471063"/>
<rect x="693.98" y="574.70" width="7.06" height="7.00" fill="#460a5d"/>
</g>
<rect x="579.10" y="454.10" width="128.40" height="127.30" fill="none" stroke="#111" stroke-width="0.9"/>
<line x1="575.16" y1="457.45" x2="579.10" y2="457.45" stroke="#222" stroke-width="1.1"/>
<text x="570.04" y="461.09" class="tk" text-anchor="end" style="font-size:11.62px">0</text>
<line x1="575.16" y1="490.95" x2="579.10" y2="490.95" stroke="#222" stroke-width="1.1"/>
<text x="570.04" y="494.59" class="tk" text-anchor="end" style="font-size:11.62px">5</text>
<line x1="575.16" y1="524.45" x2="579.10" y2="524.45" stroke="#222" stroke-width="1.1"/>
<text x="570.04" y="528.09" class="tk" text-anchor="end" textLength="10.84" lengthAdjust="spacingAndGlyphs" style="font-size:11.62px">10</text>
<line x1="575.16" y1="557.95" x2="579.10" y2="557.95" stroke="#222" stroke-width="1.1"/>
<text x="570.04" y="561.59" class="tk" text-anchor="end" textLength="10.84" lengthAdjust="spacingAndGlyphs" style="font-size:11.62px">15</text>
<line x1="582.48" y1="581.40" x2="582.48" y2="585.34" stroke="#222" stroke-width="1.1"/>
<text x="582.48" y="597.95" class="tk" text-anchor="middle" style="font-size:11.62px">0</text>
<line x1="650.06" y1="581.40" x2="650.06" y2="585.34" stroke="#222" stroke-width="1.1"/>
<text x="650.06" y="597.95" class="tk" text-anchor="middle" textLength="10.84" lengthAdjust="spacingAndGlyphs" style="font-size:11.62px">10</text>
<text x="597.90" y="447.00" class="tt" textLength="91.20" lengthAdjust="spacingAndGlyphs" style="font-size:13.40px">Slice at x=7 yz</text>
<g shape-rendering="crispEdges">
<rect x="834.70" y="454.10" width="128.90" height="128.30" fill="#440154"/>
<rect x="848.27" y="454.10" width="7.08" height="7.05" fill="#46075a"/>
<rect x="861.84" y="467.61" width="7.08" height="7.05" fill="#470d60"/>
<rect x="895.76" y="467.61" width="7.08" height="7.05" fill="#471365"/>
<rect x="875.41" y="474.36" width="7.08" height="7.05" fill="#470d60"/>
<rect x="943.25" y="474.36" width="7.08" height="7.05" fill="#471063"/>
<rect x="861.84" y="481.11" width="7.08" height="7.05" fill="#470d60"/>
<rect x="888.97" y="481.11" width="7.08" height="7.05" fill="#470d60"/>
<rect x="895.76" y="481.11" width="7.08" height="7.05" fill="#470d60"/>
<rect x="834.70" y="487.86" width="7.08" height="7.05" fill="#460a5d"/>
<rect x="875.41" y="487.86" width="7.08" height="7.05" fill="#472d7b"/>
<rect x="882.19" y="487.86" width="7.08" height="7.05" fill="#460a5d"/>
<rect x="902.54" y="487.86" width="7.08" height="7.05" fill="#470d60"/>
<rect x="909.33" y="487.86" width="7.08" height="7.05" fill="#460a5d"/>
<rect x="916.11" y="487.86" width="7.08" height="7.05" fill="#481a6c"/>
<rect x="922.89" y="487.86" width="7.08" height="7.05" fill="#481a6c"/>
<rect x="868.62" y="494.62" width="7.08" height="7.05" fill="#3e4989"/>
<rect x="875.41" y="494.62" width="7.08" height="7.05" fill="#2f6c8e"/>
<rect x="882.19" y="494.62" width="7.08" height="7.05" fill="#482173"/>
<rect x="888.97" y="494.62" width="7.08" height="7.05" fill="#460a5d"/>
<rect x="909.33" y="494.62" width="7.08" height="7.05" fill="#472d7b"/>
<rect x="916.11" y="494.62" width="7.08" height="7.05" fill="#414487"/>
<rect x="922.89" y="494.62" width="7.08" height="7.05" fill="#472d7b"/>
<rect x="895.76" y="501.37" width="7.08" height="7.05" fill="#481a6c"/>
<rect x="916.11" y="501.37" width="7.08" height="7.05" fill="#471063"/>
<rect x="848.27" y="508.12" width="7.08" height="7.05" fill="#470d60"/>
<rect x="861.84" y="508.12" width="7.08" height="7.05" fill="#471365"/>
<rect x="868.62" y="508.12" width="7.08" height="7.05" fill="#471365"/>
<rect x="929.68" y="508.12" width="7.08" height="7.05" fill="#471365"/>
<rect x="861.84" y="514.87" width="7.08" height="7.05" fill="#470d60"/>
<rect x="882.19" y="514.87" width="7.08" height="7.05" fill="#471365"/>
<rect x="902.54" y="514.87" width="7.08" height="7.05" fill="#471365"/>
<rect x="855.05" y="521.63" width="7.08" height="7.05" fill="#460a5d"/>
<rect x="888.97" y="521.63" width="7.08" height="7.05" fill="#482173"/>
<rect x="895.76" y="521.63" width="7.08" height="7.05" fill="#470d60"/>
<rect x="936.46" y="521.63" width="7.08" height="7.05" fill="#460a5d"/>
<rect x="943.25" y="521.63" width="7.08" height="7.05" fill="#460a5d"/>
<rect x="841.48" y="528.38" width="7.08" height="7.05" fill="#470d60"/>
<rect x="868.62" y="528.38" width="7.08" height="7.05" fill="#287d8e"/>
<rect x="875.41" y="528.38" width="7.08" height="7.05" fill="#287d8e"/>
<rect x="916.11" y="528.38" width="7.08" height="7.05" fill="#3e4989"/>
<rect x="922.89" y="528.38" width="7.08" height="7.05" fill="#482173"/>
<rect x="868.62" y="535.13" width="7.08" height="7.05" fill="#2fb47c"/>
<rect x="875.41" y="535.13" width="7.08" height="7.05" fill="#fde725"/>
<rect x="882.19" y="535.13" width="7.08" height="7.05" fill="#443a83"/>
<rect x="909.33" y="535.13" width="7.08" height="7.05" fill="#3e4989"/>
<rect x="916.11" y="535.13" width="7.08" height="7.05" fill="#2f6c8e"/>
<rect x="922.89" y="535.13" width="7.08" height="7.05" fill="#443a83"/>
<rect x="855.05" y="541.88" width="7.08" height="7.05" fill="#470d60"/>
<rect x="875.41" y="541.88" width="7.08" height="7.05" fill="#3e4989"/>
<rect x="909.33" y="541.88" width="7.08" height="7.05" fill="#481a6c"/>
<rect x="916.11" y="541.88" width="7.08" height="7.05" fill="#481a6c"/>
<rect x="888.97" y="548.64" width="7.08" height="7.05" fill="#471365"/>
<rect x="895.76" y="548.64" width="7.08" height="7.05" fill="#471365"/>
<rect x="868.62" y="555.39" width="7.08" height="7.05" fill="#470d60"/>
<rect x="922.89" y="555.39" width="7.08" height="7.05" fill="#460a5d"/>
<rect x="868.62" y="562.14" width="7.08" height="7.05" fill="#470d60"/>
<rect x="909.33" y="568.89" width="7.08" height="7.05" fill="#470d60"/>
<rect x="855.05" y="575.65" width="7.08" height="7.05" fill="#470d60"/>
</g>
<rect x="834.70" y="454.10" width="128.90" height="128.30" fill="none" stroke="#111" stroke-width="0.9"/>
<line x1="830.74" y1="457.48" x2="834.70" y2="457.48" stroke="#222" stroke-width="1.1"/>
<text x="825.60" y="461.14" class="tk" text-anchor="end" style="font-size:11.67px">0</text>
<line x1="830.74" y1="491.24" x2="834.70" y2="491.24" stroke="#222" stroke-width="1.1"/>
<text x="825.60" y="494.90" class="tk" text-anchor="end" style="font-size:11.67px">5</text>
<line x1="830.74" y1="525.00" x2="834.70" y2="525.00" stroke="#222" stroke-width="1.1"/>
<text x="825.60" y="528.66" class="tk" text-anchor="end" textLength="10.88" lengthAdjust="spacingAndGlyphs" style="font-size:11.67px">10</text>
<line x1="830.74" y1="558.77" x2="834.70" y2="558.77" stroke="#222" stroke-width="1.1"/>
<text x="825.60" y="562.42" class="tk" text-anchor="end" textLength="10.88" lengthAdjust="spacingAndGlyphs" style="font-size:11.67px">15</text>
<line x1="838.09" y1="582.40" x2="838.09" y2="586.36" stroke="#222" stroke-width="1.1"/>
<text x="838.09" y="599.01" class="tk" text-anchor="middle" style="font-size:11.67px">0</text>
<line x1="905.93" y1="582.40" x2="905.93" y2="586.36" stroke="#222" stroke-width="1.1"/>
<text x="905.93" y="599.01" class="tk" text-anchor="middle" textLength="10.88" lengthAdjust="spacingAndGlyphs" style="font-size:11.67px">10</text>
<text x="853.50" y="446.40" class="tt" textLength="91.40" lengthAdjust="spacingAndGlyphs" style="font-size:13.45px">Slice at z=7 xy</text>
<line x1="968.6" y1="205" x2="968.6" y2="224" stroke="#eeeeee" stroke-width="1"/>
<rect x="1002.5" y="57.5" width="13.5" height="13" fill="#ececec" stroke="#d2d2d2" stroke-width="1"/>
<polygon points="1005.3,61.8 1013.3,61.8 1009.3,66.6" fill="#505050"/>
</svg>
</body></html>
